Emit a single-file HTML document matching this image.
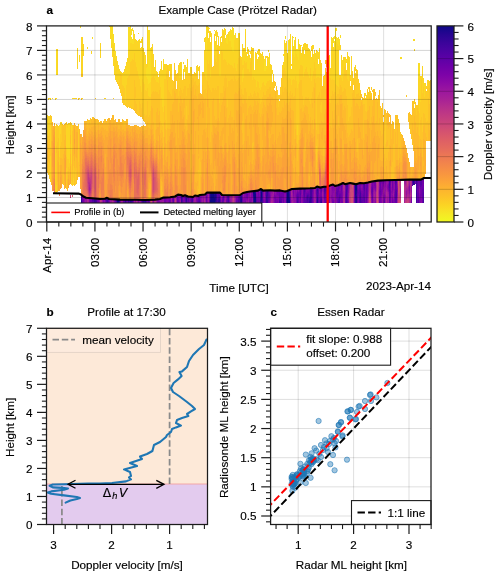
<!DOCTYPE html>
<html><head><meta charset="utf-8"><title>Melting layer figure</title><style>html,body{margin:0;padding:0;background:#fff}body{width:500px;height:577px;overflow:hidden}</style></head><body>
<svg width="500" height="577" viewBox="0 0 500 577" font-family="Liberation Sans, sans-serif" style="display:block">
<style>text{stroke:#000;stroke-width:0.15px;stroke-linejoin:round}</style>
<rect x="46.5" y="25.9" width="384.7" height="196.1" fill="#fff"/>
<g shape-rendering="crispEdges" fill="none" stroke-width="1">
<path stroke="#f9dd25" d="M56.5 49v26M72.5 98v1M80.5 26v2M92.5 37v2M109.5 26v1M110.5 26v9M111.5 26v17M112.5 26v22M113.5 34v11M114.5 43v11M115.5 51v8M128.5 27v25M129.5 27v22M130.5 26v17M131.5 29v6M131.5 37v6M132.5 28v3M132.5 39v5M133.5 30v14M137.5 41v1M146.5 68v9M147.5 67v12M148.5 30v54M149.5 30v53M150.5 48v34M163.5 59v7M206.5 26v26M207.5 26v1M211.5 33v1M214.5 30v1M223.5 30v3M225.5 29v1M226.5 35v8M227.5 34v10M229.5 31v10M230.5 29v12M231.5 30v17M232.5 27v24M233.5 28v24M234.5 35v5M235.5 33v4M238.5 33v1M245.5 29v3M264.5 59v12M265.5 62v9M266.5 66v3M268.5 59v7M269.5 59v3M285.5 36v3M288.5 40v16M292.5 36v18M293.5 37v1M293.5 46v9M294.5 40v17M296.5 49v5M297.5 49v8M298.5 39v21M299.5 44v4M318.5 52v1M319.5 48v2M327.5 39v7M331.5 37v10M332.5 38v7M333.5 37v6M334.5 36v3M334.5 41v7M335.5 28v22M336.5 28v3M336.5 37v5M337.5 38v6M338.5 37v9M339.5 39v3M340.5 35v3M400.5 57v2M401.5 57v2M413.5 39v2M414.5 39v1M418.5 63v15M419.5 63v13"/>
<path stroke="#fbd524" d="M47.5 115v14M48.5 98v2M48.5 116v20M49.5 98v1M49.5 116v17M50.5 98v2M50.5 119v28M50.5 156v26M52.5 98v1M55.5 98v2M55.5 126v67M56.5 98v1M56.5 185v8M57.5 49v26M59.5 125v32M60.5 122v12M61.5 122v3M66.5 124v24M67.5 128v31M68.5 123v36M69.5 123v40M71.5 123v41M71.5 181v4M73.5 98v1M73.5 178v7M74.5 98v1M75.5 98v1M77.5 48v21M79.5 55v7M81.5 37v36M82.5 37v36M83.5 44v12M87.5 47v2M91.5 51v3M100.5 43v15M104.5 98v1M105.5 98v1M110.5 35v4M111.5 43v5M112.5 48v9M113.5 45v21M114.5 54v21M115.5 59v21M116.5 56v25M117.5 61v21M118.5 65v18M119.5 69v11M120.5 71v3M121.5 72v3M122.5 73v12M123.5 72v14M124.5 69v19M125.5 66v37M126.5 62v23M127.5 58v20M128.5 52v24M129.5 49v26M130.5 43v19M131.5 43v18M132.5 44v15M133.5 44v16M134.5 34v19M135.5 39v23M136.5 40v27M137.5 42v29M138.5 33v1M138.5 40v36M139.5 39v40M140.5 41v2M140.5 48v38M141.5 39v4M141.5 47v45M142.5 37v42M143.5 48v34M144.5 52v32M145.5 55v35M146.5 64v4M146.5 77v14M147.5 26v41M147.5 79v9M148.5 84v12M149.5 83v14M150.5 82v15M151.5 47v31M152.5 44v33M153.5 54v22M154.5 67v11M155.5 60v20M156.5 71v11M157.5 72v10M158.5 74v1M158.5 77v6M159.5 71v2M160.5 69v18M161.5 61v37M162.5 70v37M163.5 66v46M164.5 64v15M165.5 64v15M166.5 64v7M168.5 65v4M169.5 64v7M170.5 64v8M171.5 64v14M178.5 65v7M179.5 63v15M180.5 62v16M181.5 62v16M183.5 62v2M183.5 69v6M184.5 65v7M185.5 65v9M186.5 67v10M187.5 59v16M190.5 67v8M191.5 67v3M196.5 66v8M197.5 65v11M198.5 67v4M202.5 72v2M204.5 38v4M204.5 50v24M205.5 37v40M206.5 52v28M207.5 27v33M208.5 27v6M208.5 38v26M209.5 28v1M209.5 31v29M210.5 31v6M210.5 42v35M211.5 34v31M214.5 34v21M215.5 31v5M215.5 41v18M216.5 30v32M217.5 32v5M217.5 45v3M218.5 36v10M219.5 46v5M219.5 54v22M220.5 37v39M221.5 36v2M221.5 42v8M222.5 29v23M223.5 33v27M224.5 28v31M225.5 30v5M225.5 38v22M226.5 43v19M227.5 44v21M228.5 32v31M229.5 41v23M230.5 41v24M231.5 47v18M232.5 51v15M233.5 52v16M234.5 40v23M235.5 37v31M236.5 38v33M237.5 38v26M238.5 34v24M239.5 33v19M240.5 56v1M241.5 57v3M242.5 44v21M242.5 70v12M243.5 48v17M243.5 68v10M244.5 48v13M245.5 32v31M246.5 52v10M247.5 47v7M247.5 56v13M248.5 49v20M249.5 51v1M249.5 55v17M250.5 51v3M250.5 58v4M251.5 47v4M252.5 48v32M253.5 48v29M254.5 70v9M255.5 52v28M256.5 53v34M257.5 51v3M257.5 59v22M258.5 49v6M258.5 57v25M259.5 49v39M260.5 53v37M261.5 54v33M262.5 52v31M263.5 56v26M264.5 71v14M265.5 56v6M265.5 71v15M266.5 56v2M266.5 69v14M267.5 56v25M268.5 50v2M268.5 57v2M268.5 66v15M269.5 53v6M269.5 62v18M270.5 64v16M271.5 65v17M272.5 70v4M273.5 74v2M282.5 65v5M283.5 54v2M283.5 62v8M284.5 40v28M285.5 43v28M286.5 41v35M287.5 53v25M288.5 56v24M289.5 39v39M290.5 34v45M291.5 64v2M291.5 69v16M292.5 54v26M293.5 55v24M294.5 57v23M295.5 37v39M296.5 54v27M297.5 57v31M297.5 125v10M298.5 60v24M299.5 48v21M300.5 45v20M301.5 45v1M301.5 53v12M302.5 47v19M303.5 44v33M304.5 43v7M304.5 54v18M305.5 43v26M306.5 44v23M307.5 44v28M308.5 48v27M309.5 49v29M310.5 51v17M311.5 46v5M311.5 57v24M312.5 45v31M313.5 45v4M313.5 54v17M314.5 50v12M315.5 53v15M316.5 50v28M317.5 51v26M318.5 53v6M318.5 64v13M319.5 50v28M320.5 60v18M321.5 63v12M326.5 60v7M327.5 46v36M328.5 56v23M329.5 55v22M330.5 68v10M331.5 47v33M332.5 45v34M333.5 47v33M334.5 48v32M335.5 50v34M336.5 42v43M337.5 44v42M338.5 46v41M339.5 42v8M339.5 75v3M340.5 45v5M340.5 75v1M341.5 55v23M342.5 60v21M343.5 57v19M344.5 57v10M345.5 57v8M346.5 59v4M347.5 52v27M348.5 56v25M349.5 57v18M350.5 75v5M351.5 56v28M352.5 71v1M354.5 67v2M355.5 65v6M355.5 73v4M364.5 93v2M365.5 93v3M366.5 95v2M414.5 40v1M414.5 49v2M418.5 78v17M419.5 76v37M420.5 76v26M421.5 76v3M422.5 66v27M423.5 78v9M424.5 83v14M425.5 83v7M427.5 80v7M428.5 80v1"/>
<path stroke="#fdcb26" d="M47.5 129v7M48.5 136v6M48.5 162v13M49.5 133v6M49.5 164v15M50.5 115v4M50.5 147v9M51.5 116v6M56.5 124v22M56.5 153v32M57.5 125v17M58.5 126v12M59.5 157v8M60.5 134v12M61.5 125v17M63.5 183v2M66.5 122v2M66.5 148v9M66.5 168v21M67.5 124v4M67.5 159v12M68.5 159v8M69.5 163v6M70.5 122v2M71.5 164v17M72.5 125v6M72.5 182v4M73.5 166v12M75.5 171v14M76.5 98v1M78.5 98v2M78.5 124v38M79.5 98v1M81.5 73v4M81.5 98v2M82.5 73v4M82.5 98v1M95.5 98v1M113.5 98v1M116.5 81v1M117.5 82v2M118.5 83v3M119.5 80v9M120.5 74v19M121.5 75v21M122.5 85v18M123.5 86v19M124.5 88v17M125.5 103v3M126.5 85v22M127.5 78v30M128.5 76v31M129.5 75v32M130.5 62v46M131.5 61v48M132.5 59v50M133.5 60v48M134.5 53v27M135.5 62v25M135.5 98v3M136.5 67v37M137.5 71v44M138.5 76v39M139.5 79v22M140.5 86v18M141.5 92v16M142.5 79v24M143.5 82v36M144.5 84v30M145.5 90v26M146.5 91v24M147.5 88v13M148.5 96v21M149.5 97v18M150.5 97v14M151.5 78v16M152.5 77v15M153.5 76v15M154.5 78v14M155.5 80v11M156.5 82v10M157.5 82v10M158.5 83v11M159.5 73v17M160.5 87v34M161.5 98v25M162.5 107v19M163.5 112v25M164.5 79v27M165.5 79v41M166.5 71v59M167.5 65v15M168.5 69v21M169.5 77v15M170.5 72v22M171.5 78v18M172.5 80v9M173.5 81v7M174.5 63v14M175.5 70v7M176.5 74v7M177.5 73v12M178.5 72v24M179.5 78v13M180.5 78v10M181.5 78v12M182.5 80v13M183.5 75v14M184.5 79v7M185.5 74v12M186.5 77v19M186.5 106v13M187.5 75v13M188.5 73v15M189.5 73v11M190.5 75v13M191.5 70v10M192.5 74v4M193.5 74v4M194.5 72v10M195.5 73v8M196.5 74v11M197.5 76v10M198.5 79v6M199.5 66v17M202.5 74v11M203.5 72v18M204.5 74v16M205.5 77v12M206.5 80v13M207.5 60v21M208.5 64v21M209.5 60v28M210.5 77v13M211.5 65v27M212.5 67v21M213.5 66v22M214.5 55v35M215.5 59v29M216.5 62v28M217.5 48v38M218.5 46v40M219.5 76v27M220.5 76v17M221.5 50v43M222.5 52v41M223.5 60v26M224.5 59v19M225.5 60v15M226.5 62v16M227.5 65v22M227.5 99v8M228.5 63v18M229.5 64v17M230.5 65v15M231.5 65v14M232.5 66v13M233.5 68v13M234.5 63v13M235.5 68v11M236.5 71v10M237.5 64v16M238.5 58v20M239.5 52v25M240.5 57v28M241.5 60v29M242.5 65v5M242.5 82v12M243.5 65v3M243.5 78v17M244.5 61v27M245.5 63v25M246.5 62v30M247.5 69v31M248.5 69v27M249.5 72v24M250.5 62v31M251.5 51v44M252.5 80v17M253.5 77v17M254.5 79v12M255.5 80v13M256.5 87v9M257.5 81v11M258.5 82v11M259.5 88v10M260.5 90v14M261.5 87v15M262.5 83v14M263.5 82v10M264.5 85v10M265.5 86v9M266.5 83v8M267.5 81v8M268.5 81v8M269.5 80v7M270.5 80v7M271.5 82v9M272.5 82v8M273.5 76v11M274.5 81v7M276.5 86v1M277.5 90v9M278.5 95v12M279.5 95v4M280.5 87v7M281.5 78v17M282.5 70v16M283.5 70v22M284.5 68v20M285.5 71v16M286.5 76v13M287.5 78v14M288.5 80v16M289.5 78v15M290.5 79v12M291.5 85v10M292.5 80v13M293.5 79v18M294.5 80v16M295.5 76v12M296.5 81v54M297.5 88v37M297.5 135v9M298.5 84v56M299.5 69v13M300.5 65v15M301.5 65v15M302.5 66v30M303.5 77v28M304.5 72v28M305.5 69v28M306.5 67v30M307.5 72v26M308.5 75v22M309.5 78v23M310.5 68v36M311.5 81v17M312.5 76v16M313.5 71v16M314.5 62v17M315.5 68v15M316.5 78v52M316.5 146v14M317.5 77v20M318.5 77v18M319.5 78v14M320.5 78v20M320.5 105v7M321.5 75v14M321.5 102v11M323.5 76v8M324.5 75v11M325.5 60v4M325.5 68v21M326.5 72v17M327.5 82v24M328.5 79v29M329.5 77v25M330.5 78v25M331.5 80v16M332.5 79v12M333.5 80v14M334.5 80v12M335.5 84v8M336.5 85v11M337.5 86v8M338.5 87v7M339.5 78v11M340.5 76v9M341.5 78v9M342.5 81v11M343.5 76v15M344.5 67v21M345.5 65v24M346.5 70v26M347.5 79v26M348.5 81v40M349.5 75v42M350.5 80v1M350.5 86v30M351.5 84v23M352.5 72v21M353.5 78v7M354.5 69v16M355.5 77v20M356.5 69v25M357.5 70v24M358.5 79v14M359.5 83v13M360.5 90v2M363.5 98v6M364.5 95v9M365.5 98v13M366.5 97v15M367.5 89v10M368.5 87v2M368.5 92v8M369.5 87v10M370.5 91v5M371.5 87v3M371.5 93v3M384.5 109v2M384.5 131v23M385.5 118v26M400.5 132v3M406.5 95v1M409.5 126v3M413.5 101v5M414.5 99v5M415.5 102v8M416.5 105v10M417.5 105v3M418.5 95v16M419.5 113v23M420.5 102v18M421.5 79v38M422.5 93v39M423.5 87v26M424.5 97v17M425.5 90v28M426.5 86v3M426.5 91v31M427.5 87v34M428.5 81v17M429.5 81v7M429.5 98v6M430.5 80v43"/>
<path stroke="#fdc328" d="M47.5 136v4M48.5 142v20M49.5 139v25M51.5 122v19M52.5 122v1M56.5 146v7M57.5 142v18M57.5 182v10M58.5 138v13M59.5 165v7M60.5 146v12M61.5 142v16M62.5 124v35M63.5 125v29M63.5 174v9M64.5 126v14M65.5 123v12M66.5 157v11M67.5 171v8M68.5 167v4M69.5 169v5M70.5 124v11M70.5 144v10M72.5 131v18M72.5 170v12M73.5 125v1M73.5 156v10M74.5 168v18M75.5 125v5M75.5 157v14M76.5 168v16M78.5 162v15M87.5 119v7M88.5 120v4M89.5 120v2M90.5 118v6M92.5 117v4M93.5 117v2M96.5 119v6M97.5 119v5M99.5 122v3M100.5 121v2M101.5 121v1M104.5 119v5M105.5 119v2M107.5 119v5M113.5 115v1M122.5 119v4M123.5 120v5M124.5 121v5M125.5 121v4M129.5 107v1M133.5 108v2M134.5 80v31M135.5 87v11M135.5 101v12M136.5 104v10M138.5 115v1M139.5 101v15M140.5 104v11M141.5 108v9M142.5 103v16M143.5 118v3M143.5 125v1M144.5 114v8M145.5 116v8M146.5 115v10M147.5 101v20M148.5 117v10M149.5 115v13M149.5 196v4M150.5 111v14M151.5 94v12M152.5 92v16M153.5 91v31M154.5 92v47M155.5 91v39M156.5 92v20M157.5 92v16M158.5 94v21M159.5 90v21M160.5 121v12M161.5 123v7M161.5 186v12M162.5 126v6M163.5 137v18M164.5 106v16M165.5 120v9M166.5 130v14M167.5 80v48M168.5 90v39M169.5 92v37M170.5 94v17M171.5 96v15M172.5 89v15M173.5 88v14M174.5 77v14M175.5 77v16M176.5 89v10M177.5 85v13M178.5 96v16M179.5 91v12M180.5 88v8M181.5 90v9M182.5 93v10M183.5 89v10M184.5 86v12M184.5 108v7M185.5 86v40M186.5 96v10M186.5 119v12M187.5 88v32M188.5 88v27M189.5 84v16M190.5 88v37M191.5 80v11M192.5 78v9M193.5 78v7M194.5 82v13M195.5 81v8M196.5 85v11M197.5 86v13M198.5 85v9M198.5 170v4M198.5 189v7M199.5 83v10M199.5 158v37M200.5 162v13M201.5 94v2M202.5 85v10M203.5 90v7M204.5 90v9M205.5 89v9M206.5 93v35M207.5 81v9M208.5 85v14M209.5 88v20M210.5 90v52M211.5 92v40M212.5 88v13M213.5 88v10M214.5 90v26M215.5 88v32M216.5 90v29M217.5 86v13M218.5 86v13M219.5 103v18M220.5 93v19M221.5 93v12M222.5 93v9M223.5 86v11M224.5 78v13M225.5 75v13M226.5 78v30M227.5 87v12M227.5 107v15M228.5 81v37M229.5 81v34M230.5 80v31M231.5 79v38M232.5 79v38M233.5 81v39M234.5 76v18M235.5 79v13M236.5 81v12M237.5 80v14M238.5 78v13M239.5 77v11M240.5 85v10M241.5 89v8M242.5 94v9M242.5 121v12M243.5 95v9M243.5 113v31M244.5 88v11M245.5 88v12M246.5 92v11M247.5 100v15M248.5 96v12M249.5 96v10M250.5 93v12M251.5 95v12M252.5 97v13M252.5 143v9M253.5 94v12M253.5 142v4M254.5 91v9M255.5 93v8M256.5 96v9M257.5 92v9M258.5 93v10M259.5 98v15M260.5 104v13M261.5 102v12M262.5 97v11M263.5 92v10M264.5 95v10M265.5 95v12M266.5 91v8M267.5 89v8M268.5 89v8M269.5 87v7M270.5 87v7M271.5 91v6M272.5 90v7M273.5 87v12M274.5 90v9M275.5 82v4M276.5 87v21M277.5 99v16M278.5 107v8M279.5 101v11M280.5 94v19M281.5 95v16M282.5 86v21M283.5 92v16M284.5 88v13M285.5 87v18M286.5 89v14M287.5 92v11M288.5 96v9M289.5 93v9M290.5 91v7M291.5 95v15M292.5 93v17M293.5 97v14M294.5 96v43M295.5 88v41M296.5 135v8M297.5 144v17M298.5 140v10M299.5 82v53M300.5 80v29M301.5 80v28M302.5 96v16M303.5 105v6M304.5 100v7M305.5 97v8M306.5 97v9M307.5 98v9M308.5 97v17M309.5 101v20M310.5 104v13M311.5 98v25M312.5 92v11M312.5 108v12M313.5 87v42M314.5 79v9M315.5 83v40M316.5 130v16M316.5 160v9M317.5 97v37M317.5 139v13M318.5 95v39M319.5 92v32M320.5 98v7M320.5 112v12M321.5 89v13M321.5 113v8M322.5 86v36M323.5 84v39M323.5 146v10M324.5 86v28M325.5 89v20M326.5 89v23M327.5 106v30M328.5 108v37M329.5 102v29M330.5 103v23M331.5 96v32M332.5 91v20M333.5 94v25M334.5 92v18M335.5 92v12M336.5 96v9M337.5 94v9M338.5 94v11M338.5 116v10M339.5 89v8M340.5 85v10M341.5 87v8M342.5 92v11M343.5 91v19M344.5 88v18M345.5 89v19M346.5 96v28M347.5 105v28M348.5 121v16M349.5 117v18M350.5 116v17M351.5 107v22M352.5 93v38M353.5 90v8M354.5 85v14M355.5 97v9M356.5 94v9M357.5 94v10M357.5 139v13M358.5 93v13M359.5 96v13M360.5 92v14M361.5 94v4M361.5 100v2M362.5 97v8M363.5 104v34M364.5 104v16M365.5 111v9M366.5 112v8M367.5 99v12M368.5 100v10M369.5 97v9M370.5 96v28M371.5 96v21M372.5 90v2M372.5 100v6M373.5 89v10M374.5 89v7M375.5 92v4M375.5 99v24M376.5 98v23M377.5 99v3M378.5 95v29M379.5 90v28M380.5 106v25M381.5 108v6M381.5 118v18M382.5 103v31M384.5 111v20M384.5 154v15M385.5 110v8M385.5 144v17M386.5 113v29M386.5 147v11M387.5 126v14M387.5 146v14M388.5 129v23M389.5 127v18M391.5 124v15M391.5 167v13M392.5 121v7M392.5 162v18M393.5 122v7M393.5 144v36M394.5 129v38M395.5 115v17M396.5 115v29M397.5 115v9M398.5 119v41M399.5 123v24M400.5 135v19M401.5 134v6M406.5 96v1M408.5 113v9M409.5 112v14M410.5 114v20M411.5 115v24M412.5 101v22M412.5 134v11M413.5 106v24M413.5 143v8M414.5 108v8M415.5 110v12M416.5 115v18M417.5 108v19M418.5 111v24M419.5 136v11M420.5 120v19M421.5 117v23M422.5 132v25M423.5 113v13M424.5 114v11M425.5 118v15M426.5 122v15M427.5 121v20M428.5 98v26M429.5 88v10M429.5 104v26M430.5 123v18"/>
<path stroke="#feba2c" d="M47.5 140v7M47.5 159v14M51.5 141v44M52.5 123v7M57.5 160v22M58.5 151v11M59.5 172v13M60.5 158v7M61.5 158v7M62.5 159v25M63.5 154v20M64.5 124v2M64.5 140v11M64.5 181v8M65.5 135v11M67.5 179v12M68.5 171v4M69.5 174v6M70.5 135v9M70.5 154v12M72.5 149v21M73.5 126v30M74.5 161v7M75.5 130v27M76.5 126v6M76.5 158v10M77.5 126v6M77.5 150v30M79.5 129v36M79.5 166v11M81.5 134v3M84.5 121v3M85.5 121v2M86.5 121v7M87.5 126v8M88.5 124v7M89.5 122v6M90.5 124v5M91.5 119v8M92.5 121v6M93.5 119v7M94.5 118v7M95.5 119v7M96.5 125v7M97.5 124v6M98.5 120v5M99.5 125v5M100.5 123v6M101.5 122v5M102.5 123v4M103.5 121v7M104.5 124v6M105.5 121v8M106.5 121v10M107.5 124v7M108.5 118v8M109.5 118v1M111.5 118v6M112.5 115v9M113.5 116v6M114.5 120v4M115.5 119v7M117.5 122v3M118.5 119v10M119.5 119v10M120.5 122v3M121.5 122v4M122.5 123v7M123.5 125v4M124.5 126v5M125.5 125v6M126.5 119v5M127.5 119v6M129.5 125v3M130.5 126v1M131.5 126v3M135.5 125v1M136.5 125v3M137.5 126v3M138.5 126v4M140.5 115v2M141.5 126v2M142.5 126v1M143.5 126v5M144.5 126v4M145.5 126v4M146.5 125v5M147.5 121v7M148.5 127v8M149.5 128v7M149.5 189v7M150.5 125v4M150.5 196v4M151.5 106v19M152.5 108v21M153.5 122v12M154.5 139v7M155.5 130v13M156.5 112v17M157.5 108v19M158.5 115v12M158.5 136v5M159.5 111v11M160.5 133v7M161.5 130v8M161.5 181v5M162.5 132v11M162.5 192v6M163.5 155v10M164.5 122v15M165.5 129v14M166.5 144v13M167.5 128v13M168.5 129v11M169.5 129v7M170.5 111v18M171.5 111v13M172.5 104v11M173.5 102v21M174.5 91v30M175.5 93v40M176.5 99v46M177.5 98v22M178.5 112v26M179.5 103v19M180.5 96v10M181.5 99v12M182.5 103v16M183.5 99v18M184.5 98v10M184.5 115v14M185.5 126v9M186.5 131v8M187.5 120v10M188.5 115v9M189.5 100v24M190.5 125v16M190.5 150v20M191.5 91v39M191.5 134v34M192.5 87v13M193.5 85v13M194.5 95v14M194.5 122v22M195.5 89v42M195.5 172v10M196.5 96v87M197.5 99v18M197.5 119v62M197.5 186v10M198.5 94v11M198.5 131v4M198.5 154v2M198.5 159v11M198.5 174v15M199.5 93v11M199.5 116v42M200.5 93v9M200.5 114v48M200.5 175v15M201.5 96v12M201.5 110v50M202.5 95v6M202.5 118v17M203.5 97v6M203.5 118v12M204.5 99v30M205.5 98v34M206.5 128v10M206.5 147v4M207.5 90v9M207.5 107v17M208.5 99v39M209.5 108v43M210.5 142v23M211.5 132v31M212.5 101v34M213.5 98v27M214.5 116v10M214.5 174v16M215.5 120v8M216.5 119v8M217.5 99v22M218.5 99v19M219.5 121v19M220.5 112v24M221.5 105v26M222.5 102v26M222.5 140v7M223.5 97v30M223.5 134v18M224.5 91v15M225.5 88v29M226.5 108v35M227.5 122v31M228.5 118v18M229.5 115v9M230.5 111v13M231.5 117v16M232.5 117v11M233.5 120v11M234.5 94v26M235.5 92v58M236.5 93v17M236.5 127v15M237.5 94v17M237.5 133v3M238.5 91v19M239.5 88v11M240.5 95v11M241.5 97v10M241.5 125v5M242.5 103v18M242.5 133v12M243.5 104v9M243.5 144v6M244.5 99v42M245.5 100v19M246.5 103v13M247.5 115v21M248.5 108v28M249.5 106v16M249.5 129v16M249.5 160v5M250.5 105v9M251.5 107v7M252.5 110v33M252.5 152v12M253.5 106v8M253.5 127v15M253.5 146v14M254.5 100v12M255.5 101v9M256.5 105v9M257.5 101v9M258.5 103v24M259.5 113v21M260.5 117v33M261.5 114v47M262.5 108v8M262.5 140v7M263.5 102v12M264.5 105v22M265.5 107v29M266.5 99v12M267.5 97v8M268.5 97v9M269.5 94v9M269.5 131v16M269.5 187v3M270.5 94v6M270.5 134v4M271.5 97v8M271.5 127v8M271.5 187v3M272.5 97v15M272.5 122v12M273.5 99v35M274.5 99v43M275.5 91v9M276.5 108v36M277.5 115v23M278.5 115v21M279.5 112v20M280.5 113v22M281.5 111v13M282.5 107v10M283.5 108v11M284.5 101v18M285.5 105v13M286.5 103v12M287.5 103v8M288.5 105v6M289.5 102v10M290.5 98v10M291.5 110v10M292.5 110v35M293.5 111v39M293.5 160v8M293.5 182v7M294.5 139v9M294.5 156v16M295.5 129v10M296.5 143v29M297.5 161v13M298.5 150v26M299.5 135v5M300.5 109v24M301.5 108v13M302.5 112v8M303.5 111v7M304.5 107v6M304.5 147v20M305.5 105v10M305.5 133v18M306.5 106v14M307.5 107v16M308.5 114v20M309.5 121v10M309.5 176v5M310.5 117v7M311.5 123v10M312.5 103v5M312.5 120v14M313.5 129v8M314.5 88v13M314.5 103v16M315.5 123v31M316.5 169v6M317.5 134v5M317.5 152v10M318.5 134v13M319.5 124v10M320.5 124v27M321.5 121v11M321.5 139v16M322.5 122v6M322.5 140v16M323.5 123v23M323.5 156v6M324.5 114v21M324.5 143v13M325.5 109v26M326.5 112v19M327.5 136v9M328.5 145v13M329.5 131v19M330.5 126v15M331.5 128v13M332.5 111v36M333.5 119v9M334.5 110v15M335.5 104v21M336.5 105v10M336.5 125v4M337.5 103v31M338.5 105v11M338.5 126v28M339.5 97v31M340.5 95v9M341.5 95v9M342.5 103v15M342.5 131v21M343.5 110v14M343.5 140v15M344.5 106v20M345.5 108v22M346.5 124v14M347.5 133v10M348.5 137v10M349.5 135v6M350.5 133v8M351.5 129v15M352.5 131v9M353.5 98v40M354.5 99v24M355.5 106v36M356.5 103v49M357.5 104v35M357.5 152v6M358.5 106v12M358.5 138v22M359.5 109v18M359.5 138v5M360.5 106v26M361.5 102v37M362.5 105v35M363.5 138v17M364.5 120v20M365.5 120v14M366.5 120v14M367.5 111v8M368.5 110v11M369.5 106v22M370.5 124v20M371.5 117v13M372.5 106v16M373.5 99v17M374.5 96v28M375.5 123v9M376.5 121v15M377.5 102v29M378.5 124v12M378.5 177v4M379.5 118v20M379.5 179v2M380.5 131v29M381.5 114v4M381.5 136v25M382.5 134v27M383.5 115v2M383.5 122v24M384.5 169v10M385.5 161v11M386.5 142v5M386.5 158v8M387.5 111v15M387.5 140v6M387.5 160v13M388.5 113v16M388.5 152v26M389.5 114v3M389.5 122v5M389.5 145v16M390.5 115v31M391.5 139v28M392.5 128v34M393.5 129v15M394.5 167v13M395.5 132v35M396.5 144v16M397.5 124v36M398.5 160v5M399.5 147v11M400.5 154v8M401.5 140v22M402.5 135v11M403.5 138v1M404.5 141v2M406.5 148v1M407.5 153v4M408.5 158v1M411.5 167v8M412.5 123v11M412.5 167v3M413.5 130v13M414.5 116v29M415.5 122v29M416.5 133v25M417.5 127v19M418.5 135v12M418.5 177v3M419.5 147v9M419.5 175v5M420.5 139v8M421.5 140v9M422.5 157v22M423.5 126v13M423.5 161v5M424.5 125v15M425.5 133v17M426.5 137v4M428.5 124v17M429.5 130v11"/>
<path stroke="#fdb22f" d="M47.5 147v12M52.5 130v11M53.5 126v4M54.5 123v4M58.5 162v10M59.5 185v6M60.5 165v6M61.5 165v10M64.5 151v7M64.5 175v6M65.5 146v9M68.5 175v4M69.5 180v5M70.5 166v6M74.5 123v6M74.5 154v7M76.5 132v26M77.5 132v18M79.5 165v1M81.5 137v8M84.5 124v3M85.5 123v6M86.5 128v8M87.5 134v5M88.5 131v5M89.5 128v5M90.5 129v5M91.5 127v4M92.5 127v5M93.5 126v9M94.5 125v7M95.5 126v4M96.5 132v6M97.5 130v7M98.5 125v5M99.5 130v4M100.5 129v4M101.5 127v4M102.5 127v8M103.5 128v10M104.5 130v10M105.5 129v6M105.5 154v13M106.5 131v6M107.5 131v6M108.5 126v7M109.5 119v9M110.5 120v5M111.5 124v7M112.5 124v7M113.5 122v5M114.5 124v4M115.5 126v5M116.5 122v5M117.5 125v7M118.5 129v8M119.5 129v6M120.5 125v6M121.5 126v6M122.5 130v5M123.5 129v4M124.5 131v5M125.5 131v8M126.5 124v4M127.5 125v3M128.5 125v6M129.5 128v6M130.5 127v5M131.5 129v7M132.5 126v2M133.5 126v6M134.5 125v2M135.5 126v4M136.5 128v5M137.5 129v5M138.5 130v8M139.5 127v7M140.5 127v4M141.5 128v5M142.5 127v4M143.5 131v5M144.5 130v4M145.5 130v8M146.5 130v8M147.5 128v10M148.5 135v10M148.5 195v5M149.5 135v9M149.5 183v6M150.5 129v10M150.5 184v12M151.5 125v5M152.5 129v6M153.5 134v7M154.5 146v4M155.5 143v5M156.5 129v11M157.5 127v14M158.5 127v9M158.5 141v18M159.5 122v13M160.5 140v11M160.5 179v16M161.5 138v8M161.5 177v4M162.5 143v7M162.5 182v10M163.5 165v8M164.5 137v10M165.5 143v17M166.5 157v5M167.5 141v15M168.5 140v29M169.5 136v6M169.5 151v15M170.5 129v5M171.5 124v8M172.5 115v17M173.5 123v15M173.5 148v23M174.5 121v16M175.5 133v13M176.5 145v7M177.5 120v28M178.5 138v31M179.5 122v23M180.5 106v39M181.5 111v29M182.5 119v12M183.5 117v15M184.5 129v8M185.5 135v10M186.5 139v15M187.5 130v13M188.5 124v9M189.5 124v10M190.5 141v9M190.5 170v21M191.5 130v4M191.5 168v6M192.5 100v54M193.5 98v13M194.5 109v13M194.5 144v10M194.5 175v14M195.5 131v41M195.5 182v9M196.5 183v13M197.5 117v2M197.5 181v5M198.5 105v26M198.5 135v19M198.5 156v3M199.5 104v12M200.5 102v12M200.5 190v5M201.5 108v2M201.5 160v17M202.5 101v17M202.5 135v24M203.5 103v15M203.5 130v21M204.5 129v32M204.5 162v30M205.5 132v20M206.5 138v9M206.5 151v8M207.5 99v8M207.5 124v13M208.5 138v12M209.5 151v8M210.5 165v9M211.5 163v13M212.5 135v36M212.5 175v3M213.5 125v13M213.5 169v14M214.5 126v7M214.5 161v13M214.5 190v3M215.5 128v6M215.5 166v20M216.5 127v8M216.5 174v5M217.5 121v10M218.5 118v14M219.5 140v13M220.5 136v10M221.5 131v15M222.5 128v12M222.5 147v7M223.5 127v7M223.5 152v6M224.5 106v39M225.5 117v26M226.5 143v9M227.5 153v10M228.5 136v15M229.5 124v21M230.5 124v40M231.5 133v57M231.5 191v4M232.5 128v13M233.5 131v16M234.5 120v24M235.5 150v7M236.5 110v17M236.5 142v18M237.5 111v22M237.5 136v32M238.5 110v44M239.5 99v15M240.5 106v45M241.5 107v18M241.5 130v18M242.5 145v8M243.5 150v28M244.5 141v8M244.5 175v5M245.5 119v31M245.5 164v17M246.5 116v25M247.5 136v50M248.5 136v13M248.5 156v20M249.5 122v7M249.5 145v15M249.5 165v8M250.5 114v48M251.5 114v50M252.5 164v7M253.5 114v13M253.5 160v9M254.5 112v53M255.5 110v14M256.5 114v19M257.5 110v25M258.5 127v17M259.5 134v13M260.5 150v13M261.5 161v10M262.5 116v24M262.5 147v9M263.5 114v34M264.5 127v28M265.5 136v11M266.5 111v10M267.5 105v8M267.5 185v5M268.5 106v12M268.5 130v8M268.5 184v6M269.5 103v28M269.5 147v8M269.5 184v3M270.5 100v34M270.5 138v12M270.5 189v1M271.5 105v22M271.5 135v15M271.5 178v9M272.5 112v10M272.5 134v10M273.5 134v11M274.5 142v6M275.5 100v40M276.5 144v19M277.5 138v20M278.5 136v18M279.5 132v25M280.5 135v22M281.5 124v20M281.5 152v6M282.5 117v10M283.5 119v8M284.5 119v14M285.5 118v23M286.5 115v19M287.5 111v8M287.5 145v5M288.5 111v46M289.5 112v31M290.5 108v10M291.5 120v32M292.5 145v19M292.5 186v3M293.5 150v10M293.5 168v14M294.5 148v8M294.5 172v16M295.5 139v7M295.5 158v9M296.5 172v11M297.5 174v10M298.5 176v7M299.5 140v7M300.5 133v6M301.5 121v9M302.5 120v8M303.5 118v19M303.5 149v18M304.5 113v34M304.5 167v6M305.5 115v18M305.5 151v11M306.5 120v22M307.5 123v16M308.5 134v12M308.5 173v11M309.5 131v11M309.5 162v14M309.5 181v7M310.5 124v11M311.5 133v5M311.5 171v5M312.5 134v4M313.5 137v5M314.5 101v2M314.5 119v17M315.5 154v19M316.5 175v11M317.5 162v10M318.5 147v4M318.5 175v9M319.5 134v17M320.5 151v8M321.5 132v7M321.5 155v10M322.5 128v12M322.5 156v7M323.5 162v6M324.5 135v8M324.5 156v7M325.5 135v6M326.5 131v7M327.5 145v8M328.5 158v28M329.5 150v31M330.5 141v9M331.5 141v8M332.5 147v6M333.5 128v20M334.5 125v14M335.5 125v13M336.5 115v10M336.5 129v10M337.5 134v12M338.5 154v15M338.5 174v11M339.5 128v33M340.5 104v34M341.5 104v35M342.5 118v13M342.5 152v12M343.5 124v16M343.5 155v11M344.5 126v18M345.5 130v14M346.5 138v6M347.5 143v16M348.5 147v23M349.5 141v7M350.5 141v5M351.5 144v18M352.5 140v20M353.5 138v20M354.5 123v15M355.5 142v15M356.5 152v6M357.5 158v8M358.5 118v20M358.5 160v9M359.5 127v11M359.5 143v21M360.5 132v33M361.5 139v34M362.5 140v10M362.5 159v11M363.5 155v16M364.5 140v27M365.5 134v31M366.5 134v8M367.5 119v17M368.5 121v31M369.5 128v21M370.5 144v8M371.5 130v21M371.5 161v11M372.5 122v20M373.5 116v22M374.5 124v12M374.5 163v12M375.5 132v11M375.5 161v20M376.5 136v45M377.5 131v17M377.5 176v5M378.5 136v8M378.5 158v19M379.5 138v41M380.5 160v7M381.5 161v5M382.5 161v6M383.5 146v12M384.5 179v1M385.5 172v8M386.5 166v12M387.5 173v6M388.5 178v2M389.5 161v19M390.5 146v14M390.5 166v14M395.5 167v13M396.5 160v6M397.5 160v6M398.5 165v4M399.5 158v5M400.5 162v8M401.5 162v9M402.5 146v10M403.5 139v8M404.5 143v6M405.5 145v5M406.5 149v4M407.5 157v6M408.5 159v21M409.5 162v5M410.5 167v13M411.5 175v5M412.5 170v6M413.5 167v6M414.5 145v18M415.5 151v10M416.5 158v5M417.5 146v14M418.5 147v9M418.5 170v7M419.5 156v19M420.5 147v6M421.5 149v8M423.5 139v22M423.5 166v12M424.5 140v38M425.5 150v10M425.5 166v8"/>
<path stroke="#fca934" d="M52.5 141v12M52.5 167v9M53.5 130v5M54.5 127v5M58.5 172v19M60.5 171v6M61.5 175v13M64.5 158v17M65.5 155v5M65.5 172v16M68.5 179v4M70.5 172v12M74.5 129v10M74.5 144v10M80.5 134v9M81.5 145v19M82.5 137v5M83.5 130v6M84.5 127v5M85.5 129v6M86.5 136v7M87.5 139v6M88.5 136v5M89.5 133v4M90.5 134v5M91.5 131v5M92.5 132v5M93.5 135v5M94.5 132v5M95.5 130v5M96.5 138v7M97.5 137v9M98.5 130v4M99.5 134v3M100.5 133v4M101.5 131v5M102.5 135v5M103.5 138v5M104.5 140v23M105.5 135v19M105.5 167v13M106.5 137v20M107.5 137v8M108.5 133v7M109.5 128v8M110.5 125v6M111.5 131v7M112.5 131v16M113.5 127v5M114.5 128v4M115.5 131v5M116.5 127v7M117.5 132v6M118.5 137v6M119.5 135v4M119.5 191v9M120.5 131v5M121.5 132v5M122.5 135v6M123.5 133v4M124.5 136v10M125.5 139v8M126.5 128v4M127.5 128v3M127.5 191v9M128.5 131v5M129.5 134v4M130.5 132v5M131.5 136v6M132.5 128v10M133.5 132v7M134.5 127v5M135.5 130v5M136.5 133v5M137.5 134v7M138.5 138v8M139.5 134v9M140.5 131v8M141.5 133v7M142.5 131v4M143.5 136v5M144.5 134v5M145.5 138v5M146.5 138v5M147.5 138v5M148.5 145v6M148.5 182v13M149.5 144v6M149.5 180v3M150.5 139v4M150.5 179v5M151.5 130v6M152.5 135v8M153.5 141v5M154.5 150v4M155.5 148v4M156.5 140v5M157.5 141v8M158.5 159v5M159.5 135v10M160.5 151v8M160.5 172v7M160.5 195v4M161.5 146v4M161.5 173v4M162.5 150v8M162.5 176v6M163.5 173v25M164.5 147v18M165.5 160v6M166.5 162v5M167.5 156v6M168.5 169v4M169.5 142v9M169.5 166v9M170.5 134v6M171.5 132v8M172.5 132v40M173.5 138v10M173.5 171v14M174.5 137v27M175.5 146v7M176.5 152v8M177.5 148v11M178.5 169v16M179.5 145v21M180.5 145v9M181.5 140v10M182.5 131v13M183.5 132v7M184.5 137v8M185.5 145v8M186.5 154v11M187.5 143v16M187.5 181v15M188.5 133v17M189.5 134v18M190.5 191v6M191.5 174v9M192.5 154v18M193.5 111v44M194.5 154v21M194.5 189v7M195.5 191v5M201.5 177v18M202.5 159v15M203.5 151v28M204.5 161v1M204.5 192v3M205.5 152v22M206.5 159v9M207.5 137v10M208.5 150v26M209.5 159v21M210.5 174v15M211.5 176v10M212.5 171v4M212.5 178v15M213.5 138v31M213.5 183v10M214.5 133v28M215.5 134v10M215.5 159v7M215.5 186v7M216.5 135v39M216.5 179v11M217.5 131v27M217.5 166v27M218.5 132v20M219.5 153v13M219.5 192v1M220.5 146v15M220.5 188v5M221.5 146v7M221.5 184v10M222.5 154v6M223.5 158v4M224.5 145v10M225.5 143v6M226.5 152v8M226.5 177v18M227.5 163v32M228.5 151v17M229.5 145v19M230.5 164v31M231.5 190v1M232.5 141v16M232.5 175v10M233.5 147v7M234.5 144v8M235.5 157v7M236.5 160v15M237.5 168v18M238.5 154v14M238.5 182v7M239.5 114v45M240.5 151v23M241.5 148v14M242.5 153v14M243.5 178v9M244.5 149v26M244.5 180v8M245.5 150v14M245.5 181v7M246.5 141v42M247.5 186v5M248.5 149v7M248.5 176v8M249.5 173v5M250.5 162v9M251.5 164v6M252.5 171v4M253.5 169v7M254.5 165v8M255.5 124v35M256.5 133v13M257.5 135v9M258.5 144v5M259.5 147v10M259.5 186v4M260.5 163v11M260.5 177v12M261.5 171v18M262.5 156v10M262.5 181v9M263.5 148v10M263.5 188v3M264.5 155v20M265.5 147v17M266.5 121v41M266.5 175v15M267.5 113v9M267.5 178v7M268.5 118v12M268.5 138v14M268.5 159v6M268.5 180v4M269.5 155v6M269.5 182v2M270.5 150v6M270.5 185v4M271.5 150v7M271.5 172v6M272.5 144v7M272.5 178v12M273.5 145v5M274.5 148v7M275.5 140v11M276.5 163v7M277.5 158v7M278.5 154v11M279.5 157v15M280.5 157v12M281.5 144v8M281.5 158v9M282.5 127v30M283.5 127v28M284.5 133v16M284.5 178v10M285.5 141v8M285.5 179v12M286.5 134v19M287.5 119v26M287.5 150v9M288.5 157v33M289.5 143v23M290.5 118v24M291.5 152v9M292.5 164v22M294.5 188v1M295.5 146v12M295.5 167v22M296.5 183v6M297.5 184v5M298.5 183v6M299.5 147v28M300.5 139v7M301.5 130v8M302.5 128v6M303.5 137v12M303.5 167v10M304.5 173v15M305.5 162v25M306.5 142v16M307.5 139v15M308.5 146v27M308.5 184v4M309.5 142v20M310.5 135v5M310.5 162v18M311.5 138v4M311.5 166v5M311.5 176v7M312.5 138v4M313.5 142v5M314.5 136v16M314.5 161v6M315.5 173v11M316.5 186v1M317.5 172v15M318.5 151v3M318.5 172v3M318.5 184v3M319.5 151v4M320.5 159v3M321.5 165v6M322.5 163v5M323.5 168v2M324.5 163v3M325.5 141v8M326.5 138v6M327.5 153v6M329.5 181v4M330.5 150v9M330.5 168v5M331.5 149v4M332.5 153v6M333.5 148v5M334.5 139v8M335.5 138v10M335.5 155v26M336.5 139v7M336.5 154v4M337.5 146v15M338.5 169v5M339.5 161v16M340.5 138v27M341.5 139v25M342.5 164v7M343.5 166v5M344.5 144v20M345.5 144v7M346.5 144v5M347.5 159v12M348.5 170v7M349.5 148v27M350.5 146v7M351.5 162v7M352.5 160v9M353.5 158v10M354.5 138v13M355.5 157v6M356.5 158v4M357.5 166v10M358.5 169v6M359.5 164v6M360.5 165v8M361.5 173v6M362.5 150v9M362.5 170v7M363.5 171v4M364.5 167v4M365.5 165v9M366.5 142v26M367.5 136v10M368.5 152v9M369.5 149v6M370.5 152v20M371.5 151v10M371.5 172v10M372.5 142v28M373.5 138v43M374.5 136v27M374.5 175v6M375.5 143v18M377.5 148v28M378.5 144v14M380.5 167v13M381.5 166v5M382.5 167v9M383.5 158v9M386.5 178v2M387.5 179v1M390.5 160v6M396.5 166v14M397.5 166v5M398.5 169v4M399.5 163v4M400.5 170v10M401.5 171v6M402.5 156v9M403.5 147v5M404.5 149v5M405.5 150v5M406.5 153v5M407.5 163v17M409.5 167v13M412.5 176v4M413.5 173v7M414.5 163v6M415.5 161v5M416.5 163v5M417.5 160v20M418.5 156v14M420.5 153v9M420.5 166v14M421.5 157v22M425.5 160v6"/>
<path stroke="#fba238" d="M52.5 153v14M52.5 176v8M53.5 135v8M54.5 132v5M60.5 177v12M65.5 160v12M68.5 183v5M74.5 139v5M80.5 143v46M81.5 164v9M82.5 142v10M83.5 136v10M84.5 132v4M85.5 135v4M86.5 143v4M87.5 145v4M88.5 141v5M89.5 137v4M90.5 139v5M91.5 136v3M92.5 137v4M93.5 140v4M94.5 137v4M95.5 135v4M96.5 145v5M97.5 146v5M98.5 134v5M99.5 137v5M99.5 196v3M100.5 137v5M101.5 136v6M102.5 140v6M103.5 143v8M104.5 163v11M105.5 180v18M106.5 157v33M107.5 145v12M108.5 140v7M109.5 136v12M110.5 131v8M111.5 138v11M112.5 147v9M113.5 132v6M114.5 132v5M115.5 136v7M116.5 134v11M117.5 138v12M118.5 143v5M119.5 139v5M119.5 185v6M120.5 136v4M120.5 192v8M121.5 137v5M121.5 198v2M122.5 141v10M122.5 195v5M123.5 137v11M124.5 146v8M125.5 147v5M126.5 132v4M127.5 131v4M127.5 187v4M128.5 136v3M128.5 194v6M129.5 138v3M130.5 137v4M131.5 142v4M132.5 138v8M133.5 139v5M134.5 132v5M135.5 135v6M136.5 138v4M137.5 141v8M138.5 146v5M139.5 143v6M140.5 139v6M141.5 140v6M142.5 135v4M143.5 141v7M144.5 139v6M145.5 143v4M146.5 143v6M147.5 143v5M148.5 151v8M148.5 178v4M149.5 150v5M149.5 177v3M150.5 143v3M150.5 176v3M151.5 136v5M152.5 143v4M153.5 146v3M154.5 154v3M155.5 152v3M156.5 145v5M157.5 149v8M158.5 164v4M159.5 145v17M160.5 159v13M161.5 150v5M161.5 169v4M162.5 158v18M164.5 165v6M165.5 166v5M166.5 167v6M167.5 162v7M168.5 173v4M169.5 175v7M170.5 140v28M171.5 140v24M172.5 172v9M173.5 185v10M174.5 164v10M175.5 153v6M176.5 160v9M177.5 159v15M178.5 185v10M179.5 166v23M180.5 154v18M180.5 175v10M181.5 150v9M182.5 144v11M183.5 139v12M184.5 145v8M185.5 153v8M186.5 165v6M187.5 159v22M188.5 150v47M189.5 152v45M191.5 183v7M192.5 172v10M193.5 155v11M202.5 174v9M202.5 193v2M203.5 179v16M205.5 174v20M206.5 168v25M207.5 147v8M208.5 176v17M209.5 180v13M210.5 189v4M211.5 186v7M215.5 144v15M216.5 190v3M217.5 158v8M218.5 152v41M219.5 166v26M220.5 161v27M221.5 153v31M222.5 160v8M222.5 191v4M223.5 162v5M224.5 155v4M225.5 149v8M226.5 160v17M228.5 168v15M229.5 164v30M232.5 157v18M232.5 185v10M233.5 154v5M234.5 152v5M235.5 164v7M236.5 175v11M237.5 186v8M238.5 168v14M238.5 189v6M239.5 159v14M240.5 174v9M241.5 162v13M242.5 167v14M243.5 187v6M244.5 188v5M245.5 188v4M246.5 183v6M247.5 191v1M248.5 184v5M249.5 178v6M250.5 171v4M251.5 170v4M252.5 175v5M253.5 176v6M254.5 173v18M255.5 159v7M256.5 146v15M256.5 170v7M257.5 144v6M258.5 149v8M259.5 157v29M260.5 174v3M262.5 166v15M263.5 158v30M264.5 175v16M265.5 164v26M266.5 162v13M267.5 122v56M268.5 152v7M268.5 165v6M268.5 175v5M269.5 161v8M269.5 178v4M270.5 156v6M270.5 181v4M271.5 157v15M272.5 151v6M272.5 173v5M273.5 150v6M273.5 189v2M274.5 155v11M274.5 186v5M275.5 151v12M276.5 170v16M276.5 188v3M277.5 165v11M277.5 188v3M278.5 165v13M278.5 187v3M279.5 172v8M280.5 169v7M281.5 167v5M282.5 157v11M283.5 155v12M283.5 173v15M284.5 149v29M284.5 188v3M285.5 149v30M286.5 153v13M286.5 187v4M287.5 159v8M289.5 166v24M290.5 142v12M291.5 161v28M299.5 175v11M300.5 146v8M300.5 173v12M301.5 138v12M302.5 134v18M303.5 177v11M305.5 187v1M306.5 158v24M307.5 154v34M310.5 140v5M310.5 159v3M310.5 180v8M311.5 142v5M311.5 161v5M311.5 183v5M312.5 142v4M312.5 173v12M313.5 147v5M313.5 161v24M314.5 152v9M314.5 167v6M315.5 184v3M318.5 154v4M318.5 168v4M319.5 155v2M320.5 162v2M321.5 171v2M322.5 168v4M323.5 170v2M324.5 166v3M325.5 149v5M326.5 144v5M327.5 159v27M329.5 185v1M330.5 159v9M330.5 173v9M331.5 153v6M332.5 159v9M333.5 153v5M334.5 147v33M335.5 148v7M335.5 181v5M336.5 146v8M336.5 158v23M337.5 161v20M339.5 177v8M340.5 165v8M341.5 164v6M342.5 171v4M343.5 171v4M344.5 164v7M345.5 151v17M346.5 149v22M347.5 171v8M348.5 177v5M349.5 175v8M350.5 153v30M351.5 169v14M352.5 169v15M353.5 168v6M353.5 179v5M354.5 151v11M355.5 163v8M356.5 162v11M357.5 176v8M358.5 175v5M359.5 170v5M360.5 173v4M361.5 179v4M362.5 177v6M363.5 175v7M364.5 171v4M365.5 174v9M366.5 168v15M367.5 146v17M368.5 161v6M369.5 155v8M370.5 172v10M372.5 170v11M381.5 171v9M382.5 176v4M383.5 167v13M397.5 171v6M398.5 173v4M399.5 167v4M401.5 177v3M402.5 165v9M403.5 152v5M404.5 154v3M405.5 155v3M406.5 158v4M414.5 169v11M415.5 166v4M416.5 168v12M420.5 162v4"/>
<path stroke="#fa9b3d" d="M52.5 184v7M53.5 143v35M54.5 137v9M81.5 173v22M82.5 152v7M83.5 146v10M84.5 136v6M85.5 139v4M86.5 147v3M87.5 149v3M88.5 146v4M89.5 141v6M90.5 144v4M91.5 139v5M92.5 141v5M93.5 144v6M94.5 141v4M95.5 139v5M96.5 150v4M97.5 151v5M98.5 139v6M99.5 142v6M99.5 192v4M100.5 142v7M100.5 194v5M101.5 142v4M102.5 146v9M103.5 151v7M104.5 174v16M105.5 198v1M106.5 190v8M107.5 157v27M108.5 147v13M109.5 148v22M110.5 139v9M110.5 163v6M111.5 149v9M112.5 156v8M113.5 138v8M114.5 137v7M115.5 143v8M115.5 158v13M115.5 186v7M116.5 145v8M117.5 150v9M118.5 148v17M118.5 186v14M119.5 144v4M119.5 181v4M120.5 140v5M120.5 186v6M121.5 142v7M121.5 193v5M122.5 151v4M122.5 187v8M123.5 148v7M123.5 183v17M124.5 154v5M124.5 164v36M125.5 152v5M125.5 160v19M126.5 136v5M127.5 135v3M127.5 182v5M128.5 139v4M128.5 189v5M129.5 141v3M130.5 141v4M131.5 146v3M132.5 146v5M133.5 144v6M134.5 137v5M135.5 141v7M136.5 142v6M137.5 149v7M138.5 151v4M139.5 149v4M140.5 145v6M141.5 146v7M142.5 139v5M143.5 148v10M144.5 145v7M145.5 147v4M146.5 149v7M147.5 148v10M147.5 168v6M147.5 189v11M148.5 159v19M149.5 155v5M149.5 174v3M150.5 146v3M150.5 174v2M151.5 141v3M152.5 147v4M153.5 149v4M154.5 157v2M155.5 155v3M156.5 150v4M157.5 157v6M158.5 168v3M159.5 162v8M161.5 155v14M164.5 171v8M165.5 171v5M166.5 173v6M167.5 169v5M168.5 177v7M169.5 182v7M170.5 168v8M171.5 164v9M172.5 181v6M173.5 195v2M174.5 174v16M175.5 159v7M176.5 169v7M177.5 174v12M179.5 189v6M180.5 172v3M180.5 185v10M181.5 159v8M181.5 190v5M182.5 155v12M182.5 190v6M183.5 151v7M184.5 153v7M185.5 161v6M186.5 171v25M191.5 190v7M192.5 182v7M193.5 166v28M202.5 183v10M207.5 155v8M222.5 168v12M222.5 183v8M223.5 167v9M224.5 159v6M225.5 157v9M225.5 182v13M228.5 183v12M229.5 194v1M233.5 159v36M234.5 157v5M235.5 171v24M236.5 186v9M237.5 194v1M239.5 173v22M240.5 183v8M241.5 175v6M242.5 181v7M246.5 189v3M248.5 189v3M249.5 184v6M250.5 175v4M251.5 174v4M252.5 180v4M253.5 182v9M255.5 166v14M256.5 161v9M256.5 177v8M257.5 150v39M258.5 157v7M258.5 169v21M268.5 171v4M269.5 169v9M270.5 162v19M272.5 157v16M273.5 156v7M273.5 172v17M274.5 166v20M275.5 163v8M276.5 186v2M277.5 176v12M278.5 178v9M279.5 180v10M280.5 176v15M281.5 172v19M282.5 168v23M283.5 167v6M283.5 188v3M286.5 166v21M287.5 167v24M290.5 154v22M299.5 186v3M300.5 154v19M300.5 185v4M301.5 150v9M301.5 163v25M302.5 152v14M306.5 182v6M310.5 145v14M311.5 147v14M312.5 146v4M312.5 167v6M312.5 185v3M313.5 152v9M313.5 185v3M314.5 173v9M315.5 187v1M318.5 158v10M319.5 157v3M320.5 164v2M321.5 173v3M322.5 172v2M323.5 172v2M324.5 169v2M325.5 154v3M326.5 149v4M330.5 182v3M331.5 159v25M332.5 168v17M333.5 158v27M334.5 180v6M336.5 181v5M337.5 181v4M340.5 173v10M341.5 170v4M342.5 175v8M343.5 175v5M344.5 171v7M345.5 168v7M346.5 171v8M347.5 179v5M348.5 182v1M353.5 174v5M354.5 162v9M355.5 171v7M356.5 173v11M358.5 180v3M359.5 175v5M360.5 177v4M363.5 182v1M364.5 175v8M367.5 163v6M368.5 167v9M369.5 163v10M397.5 177v3M398.5 177v3M399.5 171v4M402.5 174v6M403.5 157v6M404.5 157v4M405.5 158v4M406.5 162v12M415.5 170v10"/>
<path stroke="#f79342" d="M53.5 178v4M54.5 146v29M82.5 159v5M83.5 156v6M84.5 142v9M85.5 143v5M86.5 150v2M87.5 152v2M88.5 150v3M89.5 147v5M90.5 148v4M91.5 144v5M92.5 146v6M93.5 150v5M94.5 145v8M95.5 144v5M96.5 154v4M97.5 156v7M98.5 145v5M99.5 148v9M99.5 188v4M100.5 149v7M100.5 190v4M101.5 146v4M102.5 155v13M103.5 158v6M104.5 190v9M107.5 184v14M108.5 160v19M109.5 170v4M110.5 148v15M110.5 169v4M111.5 158v15M112.5 164v21M113.5 146v6M113.5 183v16M114.5 144v6M114.5 192v7M115.5 151v7M115.5 171v15M115.5 193v6M116.5 153v21M116.5 175v24M117.5 159v11M117.5 181v18M118.5 165v9M118.5 176v10M119.5 148v19M119.5 176v5M120.5 145v5M120.5 181v5M121.5 149v7M121.5 187v6M122.5 155v8M122.5 180v7M123.5 155v9M123.5 177v6M124.5 159v5M125.5 157v3M125.5 179v21M126.5 141v6M126.5 190v10M127.5 138v5M127.5 177v5M128.5 143v4M128.5 186v3M129.5 144v3M130.5 145v3M131.5 149v3M131.5 192v8M132.5 151v4M132.5 191v9M133.5 150v7M133.5 183v17M134.5 142v4M135.5 148v4M136.5 148v5M137.5 156v7M138.5 155v5M139.5 153v3M140.5 151v4M141.5 153v8M141.5 182v18M142.5 144v5M143.5 158v9M144.5 152v8M145.5 151v5M146.5 156v5M147.5 158v10M147.5 174v15M149.5 160v14M150.5 149v3M150.5 171v3M151.5 144v3M152.5 151v4M153.5 153v3M154.5 159v2M155.5 158v2M156.5 154v4M157.5 163v3M158.5 171v3M159.5 170v4M164.5 179v7M165.5 176v7M166.5 179v9M167.5 174v6M168.5 184v12M169.5 189v7M170.5 176v6M171.5 173v11M172.5 187v10M174.5 190v7M175.5 166v9M176.5 176v9M177.5 186v9M181.5 167v23M182.5 167v23M183.5 158v10M183.5 193v3M184.5 160v8M185.5 167v18M192.5 189v7M193.5 194v3M207.5 163v30M222.5 180v3M223.5 176v12M223.5 191v4M224.5 165v10M224.5 191v4M225.5 166v16M234.5 162v11M240.5 191v4M241.5 181v5M242.5 188v5M249.5 190v2M250.5 179v4M251.5 178v4M252.5 184v7M255.5 180v10M256.5 185v6M257.5 189v2M258.5 164v5M273.5 163v9M275.5 171v20M290.5 176v14M301.5 159v4M301.5 188v1M302.5 166v14M312.5 150v6M312.5 159v8M314.5 182v5M319.5 160v2M320.5 166v2M321.5 176v2M322.5 174v2M323.5 174v1M324.5 171v1M325.5 157v3M326.5 153v2M331.5 184v1M340.5 183v1M341.5 174v10M343.5 180v3M344.5 178v4M345.5 175v9M346.5 179v5M354.5 171v13M355.5 178v6M359.5 180v3M360.5 181v2M367.5 169v6M367.5 181v2M368.5 176v6M369.5 173v9M399.5 175v5M403.5 163v12M403.5 177v3M404.5 161v19M405.5 162v10M406.5 174v6"/>
<path stroke="#f58c46" d="M53.5 182v7M54.5 175v4M82.5 164v5M83.5 162v4M84.5 151v8M85.5 148v4M86.5 152v2M87.5 154v2M88.5 153v3M89.5 152v5M90.5 152v3M91.5 149v3M92.5 152v3M93.5 155v4M94.5 153v4M95.5 149v4M96.5 158v5M97.5 163v8M98.5 150v8M99.5 157v12M99.5 184v4M100.5 156v24M100.5 184v6M101.5 150v6M101.5 162v14M102.5 168v6M102.5 197v2M103.5 164v5M108.5 179v11M108.5 193v6M109.5 174v16M110.5 173v11M111.5 173v12M112.5 185v4M113.5 152v7M113.5 177v6M114.5 150v5M114.5 167v2M114.5 181v11M116.5 174v1M117.5 170v11M118.5 174v2M119.5 167v9M120.5 150v7M120.5 176v5M121.5 156v7M121.5 178v9M122.5 163v7M122.5 176v4M123.5 164v13M126.5 147v5M126.5 179v11M127.5 143v5M127.5 172v5M128.5 147v4M128.5 183v3M129.5 147v5M129.5 195v5M130.5 148v3M131.5 152v2M131.5 188v4M132.5 155v7M132.5 177v14M133.5 157v6M133.5 179v4M134.5 146v5M135.5 152v2M136.5 153v6M137.5 163v4M138.5 160v4M139.5 156v3M140.5 155v6M141.5 161v21M142.5 149v6M143.5 167v4M144.5 160v4M145.5 156v4M146.5 161v9M146.5 189v11M150.5 152v5M150.5 168v3M151.5 147v3M151.5 181v19M152.5 155v3M153.5 156v2M154.5 161v2M155.5 160v2M155.5 199v1M156.5 158v3M157.5 166v4M158.5 174v4M158.5 196v3M159.5 174v5M159.5 198v1M164.5 186v9M164.5 197v1M165.5 183v6M166.5 188v4M167.5 180v6M168.5 196v1M169.5 196v1M170.5 182v7M171.5 184v13M175.5 175v18M176.5 185v8M183.5 168v25M184.5 168v27M185.5 185v10M192.5 196v1M223.5 188v3M224.5 175v16M234.5 173v22M241.5 186v8M250.5 183v8M251.5 182v6M255.5 190v1M302.5 180v9M312.5 156v3M314.5 187v1M319.5 162v2M320.5 168v1M321.5 178v3M322.5 176v2M323.5 175v2M324.5 172v2M325.5 160v3M326.5 155v3M344.5 182v2M367.5 175v6M403.5 175v2M405.5 172v8"/>
<path stroke="#f2844b" d="M53.5 189v2M54.5 179v4M82.5 169v27M83.5 166v5M84.5 159v8M85.5 152v3M86.5 154v2M87.5 156v2M88.5 156v2M89.5 157v4M90.5 155v3M91.5 152v2M92.5 155v3M93.5 159v3M94.5 157v3M95.5 153v3M96.5 163v5M97.5 171v6M98.5 158v7M98.5 194v5M99.5 169v15M100.5 180v4M101.5 156v6M101.5 176v6M101.5 193v6M102.5 174v4M102.5 190v7M103.5 169v4M103.5 190v9M108.5 190v3M109.5 190v9M110.5 184v6M111.5 185v5M112.5 189v10M113.5 159v18M114.5 155v12M114.5 169v12M120.5 157v19M121.5 163v15M122.5 170v6M126.5 152v27M127.5 148v4M127.5 168v4M128.5 151v3M128.5 180v3M129.5 152v3M129.5 192v3M130.5 151v3M130.5 193v7M131.5 154v3M131.5 185v3M132.5 162v15M133.5 163v16M134.5 151v4M135.5 154v3M136.5 159v3M137.5 167v3M138.5 164v3M139.5 159v4M140.5 161v39M142.5 155v4M142.5 190v10M143.5 171v3M143.5 189v11M144.5 164v3M145.5 160v3M146.5 170v19M150.5 157v11M151.5 150v5M151.5 177v4M152.5 158v3M153.5 158v2M154.5 163v2M154.5 199v1M155.5 162v2M155.5 197v2M156.5 161v3M156.5 197v2M157.5 170v4M157.5 197v2M158.5 178v5M158.5 193v3M159.5 179v19M164.5 195v2M165.5 189v6M166.5 192v4M167.5 186v6M170.5 189v8M175.5 193v3M176.5 193v3M251.5 188v3M319.5 164v3M320.5 169v2M321.5 181v5M322.5 178v3M323.5 177v3M324.5 174v2M325.5 163v2M326.5 158v2"/>
<path stroke="#ef7e50" d="M54.5 183v6M83.5 171v11M83.5 195v2M84.5 167v6M85.5 155v3M86.5 156v2M86.5 197v1M87.5 158v3M87.5 197v1M88.5 158v2M89.5 161v3M90.5 158v3M91.5 154v3M92.5 158v3M92.5 194v4M93.5 162v4M93.5 196v2M94.5 160v4M95.5 156v4M96.5 168v4M97.5 177v22M98.5 165v4M98.5 188v6M101.5 182v11M102.5 178v12M103.5 173v17M110.5 190v5M111.5 190v8M127.5 152v4M127.5 165v3M128.5 154v3M128.5 177v3M129.5 155v3M129.5 188v4M130.5 154v2M130.5 190v3M131.5 157v3M131.5 182v3M134.5 155v4M135.5 157v5M136.5 162v4M137.5 170v2M138.5 167v3M139.5 163v5M139.5 199v1M142.5 159v8M142.5 185v5M143.5 174v15M144.5 167v2M145.5 163v4M145.5 197v3M151.5 155v6M151.5 173v4M152.5 161v2M153.5 160v1M154.5 165v1M154.5 197v2M155.5 164v3M155.5 196v1M156.5 164v2M156.5 195v2M157.5 174v4M157.5 195v2M158.5 183v10M165.5 195v2M166.5 196v1M167.5 192v4M319.5 167v2M319.5 184v3M320.5 171v2M321.5 186v1M322.5 181v6M323.5 180v4M324.5 176v2M325.5 165v2M326.5 160v3"/>
<path stroke="#eb7655" d="M54.5 189v4M59.5 194v2M83.5 182v13M84.5 173v6M84.5 190v7M85.5 158v4M85.5 191v7M86.5 158v4M86.5 193v4M87.5 161v2M87.5 195v2M88.5 160v2M89.5 164v2M90.5 161v3M91.5 157v3M92.5 161v4M92.5 191v3M93.5 166v3M93.5 192v4M94.5 164v3M95.5 160v3M96.5 172v4M98.5 169v5M98.5 179v9M110.5 195v4M111.5 198v1M127.5 156v9M128.5 157v20M129.5 158v2M129.5 185v3M130.5 156v2M130.5 188v2M131.5 160v4M131.5 180v2M134.5 159v4M135.5 162v7M136.5 166v3M137.5 172v2M138.5 170v2M139.5 168v4M139.5 185v14M142.5 167v6M142.5 178v7M144.5 169v3M144.5 195v5M145.5 167v4M145.5 187v10M151.5 161v12M152.5 163v2M152.5 198v2M153.5 161v2M153.5 199v1M154.5 166v2M154.5 196v1M155.5 167v2M155.5 194v2M156.5 166v4M156.5 194v1M157.5 178v3M157.5 192v3M167.5 196v1M319.5 169v3M319.5 180v4M320.5 173v2M323.5 184v3M324.5 178v2M325.5 167v2M326.5 163v2M326.5 185v2"/>
<path stroke="#e87059" d="M84.5 179v11M85.5 162v7M85.5 187v4M86.5 162v3M86.5 191v2M87.5 163v2M87.5 194v1M88.5 162v2M89.5 166v2M90.5 164v2M91.5 160v3M92.5 165v3M92.5 189v2M93.5 169v4M93.5 188v4M94.5 167v2M95.5 163v3M96.5 176v23M98.5 174v5M129.5 160v3M129.5 183v2M130.5 158v2M130.5 186v2M131.5 164v5M131.5 177v3M134.5 163v4M134.5 184v16M135.5 169v5M135.5 178v22M136.5 169v3M136.5 193v7M137.5 174v2M137.5 195v5M138.5 172v1M138.5 195v5M139.5 172v13M142.5 173v5M144.5 172v2M144.5 185v10M145.5 171v3M145.5 180v7M152.5 165v2M152.5 196v2M153.5 163v1M153.5 198v1M154.5 168v2M154.5 194v2M155.5 169v2M155.5 193v1M156.5 170v4M156.5 192v2M157.5 181v7M157.5 190v2M319.5 172v8M320.5 175v5M320.5 185v3M324.5 180v4M325.5 169v2M326.5 165v4M326.5 178v7"/>
<path stroke="#e4695e" d="M85.5 169v18M86.5 165v3M86.5 189v2M87.5 165v1M87.5 193v1M88.5 164v2M88.5 197v1M89.5 168v2M90.5 166v2M91.5 163v3M91.5 196v2M92.5 168v3M92.5 187v2M93.5 173v15M94.5 169v3M94.5 193v5M95.5 166v2M129.5 163v3M129.5 181v2M130.5 160v2M130.5 183v3M131.5 169v8M134.5 167v7M134.5 176v8M135.5 174v4M136.5 172v21M137.5 176v3M137.5 193v2M138.5 173v2M138.5 189v6M144.5 174v11M145.5 174v6M152.5 167v3M152.5 194v2M153.5 164v2M153.5 196v2M154.5 170v2M154.5 193v1M155.5 171v2M155.5 191v2M156.5 174v8M156.5 190v2M157.5 188v2M320.5 180v5M324.5 184v3M325.5 171v5M325.5 186v1M326.5 169v9"/>
<path stroke="#e06363" d="M86.5 168v4M86.5 181v8M87.5 166v2M87.5 191v2M88.5 166v1M88.5 196v1M89.5 170v1M90.5 168v2M91.5 166v2M91.5 194v2M92.5 171v3M92.5 184v3M94.5 172v2M94.5 189v4M95.5 168v2M95.5 196v3M129.5 166v4M129.5 177v4M130.5 162v3M130.5 181v2M134.5 174v2M137.5 179v14M138.5 175v14M152.5 170v3M152.5 192v2M153.5 166v2M153.5 195v1M154.5 172v2M154.5 192v1M155.5 173v4M155.5 190v1M156.5 182v8M325.5 176v10M398.5 180v1"/>
<path stroke="#dc5d67" d="M72.5 195v2M86.5 172v9M87.5 168v2M87.5 190v1M88.5 167v2M88.5 195v1M89.5 171v2M90.5 170v2M90.5 197v1M91.5 168v2M91.5 193v1M92.5 174v10M94.5 174v15M95.5 170v3M95.5 192v4M129.5 170v7M130.5 165v4M130.5 178v3M152.5 173v19M153.5 168v1M153.5 193v2M154.5 174v3M154.5 190v2M155.5 177v13M352.5 184v1M398.5 181v3"/>
<path stroke="#d7566c" d="M87.5 170v2M87.5 187v3M88.5 169v1M88.5 194v1M89.5 173v1M89.5 197v1M90.5 172v1M90.5 196v1M91.5 170v2M91.5 191v2M95.5 173v3M95.5 190v2M130.5 169v9M151.5 200v3M153.5 169v2M153.5 192v1M154.5 177v13M352.5 185v2M377.5 201v2M398.5 184v2M400.5 202v1"/>
<path stroke="#d35171" d="M87.5 172v2M87.5 183v4M88.5 170v2M88.5 193v1M89.5 174v1M90.5 173v2M90.5 195v1M91.5 172v1M91.5 189v2M95.5 176v14M153.5 171v2M153.5 190v2M351.5 196v7M352.5 187v1M352.5 198v5M377.5 199v2M398.5 186v7M399.5 202v1M400.5 201v1M402.5 180v1"/>
<path stroke="#cd4a76" d="M87.5 174v9M88.5 172v1M88.5 192v1M89.5 175v2M89.5 196v1M90.5 175v2M90.5 194v1M91.5 173v3M91.5 184v5M153.5 173v5M153.5 180v10M350.5 190v2M351.5 189v7M352.5 188v3M352.5 192v6M369.5 196v7M370.5 201v2M377.5 197v2M398.5 193v2M398.5 201v2M399.5 188v5M399.5 200v2M400.5 200v1"/>
<path stroke="#c9447a" d="M70.5 195v3M88.5 173v1M88.5 191v1M89.5 177v1M89.5 195v1M90.5 177v2M90.5 193v1M91.5 176v8M153.5 178v2M175.5 202v1M350.5 187v3M350.5 192v10M351.5 183v6M352.5 191v1M369.5 194v2M370.5 199v2M377.5 190v7M398.5 195v6M399.5 186v2M399.5 193v2M399.5 198v2M400.5 199v1M407.5 180v4M407.5 201v2M408.5 202v1"/>
<path stroke="#c33d80" d="M88.5 174v3M88.5 190v1M89.5 178v2M89.5 194v1M90.5 179v2M150.5 200v3M155.5 202v1M175.5 201v1M233.5 198v2M350.5 183v4M350.5 202v1M353.5 184v2M353.5 193v3M369.5 193v1M370.5 197v2M377.5 181v9M399.5 183v3M399.5 195v3M400.5 198v1M401.5 180v1M405.5 202v1M406.5 202v1M407.5 184v1M407.5 199v2M408.5 200v2"/>
<path stroke="#be3885" d="M88.5 177v5M88.5 184v6M89.5 180v2M89.5 193v1M90.5 181v3M90.5 191v2M100.5 199v4M154.5 202v1M155.5 200v2M175.5 200v1M233.5 196v2M233.5 200v3M349.5 196v7M353.5 186v7M353.5 196v2M369.5 191v2M370.5 195v2M376.5 192v11M378.5 201v2M399.5 180v3M400.5 180v6M400.5 197v1M403.5 180v1M405.5 200v2M406.5 200v2M407.5 185v1M407.5 198v1M408.5 199v1M410.5 195v1"/>
<path stroke="#b7318a" d="M88.5 182v2M89.5 182v1M89.5 192v1M90.5 184v4M90.5 190v1M101.5 199v3M154.5 201v1M175.5 199v1M233.5 195v1M344.5 202v1M349.5 193v3M353.5 198v2M369.5 182v2M369.5 187v4M370.5 192v3M376.5 181v2M376.5 191v1M378.5 181v5M378.5 199v2M400.5 186v2M400.5 196v1M404.5 187v10M405.5 199v1M407.5 186v1M407.5 197v1M408.5 198v1M410.5 180v6M410.5 193v2M410.5 196v2"/>
<path stroke="#b22b8f" d="M89.5 183v2M89.5 191v1M90.5 188v2M101.5 202v1M112.5 200v3M136.5 200v3M154.5 200v1M175.5 198v1M204.5 202v1M221.5 194v1M232.5 198v5M343.5 183v5M344.5 184v3M344.5 200v2M349.5 191v2M353.5 200v3M369.5 184v3M370.5 182v2M370.5 189v3M376.5 183v2M376.5 189v2M378.5 186v4M378.5 196v3M400.5 188v1M400.5 195v1M404.5 185v2M404.5 197v1M405.5 186v5M405.5 195v4M406.5 181v6M406.5 199v1M407.5 187v1M407.5 196v1M408.5 180v4M408.5 197v1M409.5 199v4M410.5 186v2M410.5 191v2M410.5 198v1"/>
<path stroke="#ac2694" d="M87.5 198v5M89.5 185v2M89.5 190v1M112.5 199v1M152.5 201v2M175.5 196v2M204.5 200v2M221.5 195v1M232.5 195v3M234.5 198v5M271.5 201v2M291.5 190v5M330.5 185v1M330.5 202v1M343.5 188v2M343.5 199v4M344.5 187v4M344.5 198v2M349.5 189v2M368.5 199v4M370.5 184v5M376.5 185v4M378.5 190v6M386.5 192v4M386.5 200v3M400.5 189v6M404.5 184v1M404.5 198v2M405.5 185v1M405.5 191v4M406.5 180v1M406.5 187v1M406.5 198v1M407.5 188v1M407.5 194v2M408.5 184v2M408.5 194v3M409.5 197v2M410.5 188v3M410.5 199v3M411.5 180v5"/>
<path stroke="#a51f99" d="M88.5 200v3M89.5 187v3M111.5 202v1M113.5 201v2M121.5 200v3M122.5 200v1M134.5 200v3M152.5 200v1M156.5 199v4M174.5 201v2M176.5 202v1M204.5 199v1M208.5 193v5M221.5 196v1M230.5 195v2M234.5 196v2M271.5 199v2M272.5 199v4M273.5 191v3M291.5 189v1M291.5 195v2M292.5 201v2M314.5 201v2M330.5 186v2M330.5 200v2M343.5 190v1M343.5 196v3M344.5 191v7M349.5 183v6M368.5 196v3M374.5 194v3M386.5 190v2M386.5 196v4M387.5 192v4M397.5 200v3M404.5 180v1M404.5 182v2M404.5 200v3M405.5 184v1M406.5 188v2M406.5 197v1M407.5 189v5M408.5 186v1M408.5 191v3M409.5 180v1M409.5 195v2M410.5 202v1M411.5 185v1M411.5 193v3"/>
<path stroke="#9e199d" d="M85.5 200v3M88.5 198v2M102.5 201v2M110.5 200v3M111.5 200v2M113.5 199v2M122.5 201v2M137.5 200v3M139.5 201v2M161.5 202v1M162.5 201v2M163.5 201v2M171.5 197v6M174.5 198v3M176.5 200v2M180.5 201v2M194.5 196v7M195.5 196v6M202.5 199v4M204.5 196v3M205.5 201v2M208.5 198v5M225.5 201v2M230.5 197v2M231.5 195v8M234.5 195v1M248.5 201v2M250.5 191v4M271.5 196v3M272.5 194v5M273.5 194v2M291.5 197v3M292.5 193v8M314.5 189v12M315.5 199v4M322.5 192v4M330.5 188v2M330.5 199v1M331.5 202v1M335.5 186v6M343.5 191v5M368.5 182v1M368.5 192v4M374.5 191v3M374.5 197v3M383.5 190v3M386.5 180v1M386.5 188v2M387.5 180v2M387.5 191v1M387.5 196v2M388.5 194v9M393.5 193v3M397.5 180v4M397.5 198v2M404.5 181v1M405.5 180v4M406.5 190v1M406.5 195v2M408.5 187v4M409.5 181v2M409.5 194v1M411.5 186v1M411.5 192v1M411.5 196v1"/>
<path stroke="#9613a1" d="M85.5 199v1M86.5 198v5M102.5 199v2M104.5 202v1M110.5 199v1M111.5 199v1M135.5 202v1M139.5 200v1M140.5 200v3M160.5 199v4M161.5 200v2M162.5 200v1M163.5 200v1M174.5 197v1M176.5 199v1M180.5 200v1M195.5 202v1M202.5 197v2M204.5 195v1M205.5 199v2M220.5 193v1M221.5 197v1M224.5 201v2M225.5 196v5M230.5 199v2M235.5 197v6M243.5 193v4M246.5 201v2M248.5 199v2M250.5 195v2M252.5 200v3M264.5 191v6M270.5 202v1M271.5 193v3M272.5 190v4M273.5 196v1M273.5 200v3M291.5 200v3M292.5 189v4M293.5 200v3M296.5 189v1M298.5 189v1M314.5 188v1M315.5 188v2M315.5 194v5M322.5 191v1M322.5 196v2M323.5 199v4M330.5 190v9M331.5 185v2M331.5 201v1M335.5 192v11M368.5 183v9M373.5 192v7M374.5 190v1M374.5 200v3M375.5 192v6M382.5 196v7M383.5 189v1M383.5 193v2M384.5 188v4M385.5 191v4M385.5 199v4M386.5 181v7M387.5 182v2M387.5 190v1M387.5 198v5M388.5 192v2M391.5 183v4M393.5 191v2M393.5 196v2M397.5 184v2M397.5 196v2M406.5 191v4M409.5 183v2M409.5 193v1M411.5 187v5M411.5 197v1"/>
<path stroke="#8f0da4" d="M83.5 197v1M84.5 197v6M85.5 198v1M99.5 200v3M104.5 199v3M114.5 199v2M135.5 200v2M153.5 200v3M159.5 199v2M161.5 198v2M163.5 199v1M167.5 202v1M176.5 197v2M180.5 199v1M197.5 196v1M201.5 198v5M202.5 195v2M203.5 196v6M205.5 194v5M207.5 193v2M220.5 194v1M221.5 198v2M224.5 200v1M225.5 195v1M230.5 201v2M235.5 195v2M243.5 197v1M246.5 200v1M247.5 201v2M248.5 197v2M250.5 197v1M251.5 191v1M252.5 198v2M259.5 190v2M264.5 197v2M270.5 200v2M271.5 190v3M273.5 197v3M275.5 191v3M293.5 198v2M294.5 189v14M295.5 197v6M296.5 190v2M298.5 190v1M301.5 197v6M302.5 189v6M315.5 190v4M319.5 191v2M322.5 189v2M322.5 198v5M323.5 192v7M331.5 187v8M331.5 199v2M333.5 193v4M334.5 191v9M348.5 193v6M361.5 186v2M371.5 183v1M371.5 200v3M373.5 190v2M373.5 199v4M374.5 189v1M375.5 191v1M375.5 198v3M382.5 194v2M383.5 187v2M383.5 195v2M384.5 183v5M384.5 192v2M385.5 187v4M385.5 195v4M387.5 184v1M387.5 189v1M388.5 180v1M391.5 181v2M391.5 187v4M391.5 193v10M392.5 194v1M393.5 190v1M393.5 198v1M394.5 184v5M397.5 186v2M397.5 192v4M409.5 185v1M409.5 191v2M419.5 189v4M421.5 202v1"/>
<path stroke="#8707a6" d="M83.5 198v1M99.5 199v1M103.5 199v1M114.5 201v2M157.5 199v3M158.5 199v1M159.5 201v2M162.5 199v1M166.5 201v2M167.5 199v3M176.5 196v1M179.5 196v7M193.5 201v2M196.5 196v2M196.5 201v2M197.5 197v1M201.5 195v3M203.5 195v1M203.5 202v1M207.5 195v7M220.5 195v1M221.5 200v2M224.5 198v2M226.5 195v1M236.5 195v2M243.5 198v2M244.5 193v3M246.5 199v1M247.5 200v1M248.5 192v2M248.5 195v2M249.5 194v5M250.5 198v1M251.5 192v2M251.5 201v2M252.5 197v1M259.5 192v2M263.5 194v2M264.5 199v2M269.5 190v1M270.5 190v5M270.5 198v2M274.5 191v2M275.5 194v1M284.5 194v9M285.5 194v9M293.5 196v2M295.5 189v8M296.5 192v1M297.5 189v1M298.5 191v1M301.5 194v3M302.5 195v8M306.5 188v2M313.5 194v7M319.5 189v2M319.5 193v2M322.5 187v2M323.5 189v3M329.5 186v4M331.5 195v4M332.5 191v6M333.5 188v5M333.5 197v2M334.5 186v5M334.5 200v3M342.5 187v5M348.5 184v9M348.5 199v2M361.5 184v2M361.5 188v2M362.5 183v5M367.5 200v3M371.5 182v1M371.5 184v2M371.5 196v4M373.5 188v2M374.5 188v1M375.5 190v1M375.5 201v2M379.5 186v1M381.5 184v3M381.5 196v5M382.5 192v2M383.5 186v1M383.5 197v3M384.5 182v1M384.5 194v1M385.5 184v3M387.5 185v4M388.5 181v2M388.5 191v1M391.5 180v1M391.5 191v2M392.5 192v2M392.5 195v2M393.5 181v9M393.5 199v1M394.5 182v2M394.5 189v3M397.5 188v4M409.5 186v5M411.5 198v1M419.5 187v2M419.5 193v2M420.5 202v1M421.5 200v2"/>
<path stroke="#8004a8" d="M83.5 199v1M89.5 200v3M98.5 199v1M103.5 200v3M109.5 199v4M120.5 200v3M138.5 201v2M157.5 202v1M158.5 200v3M162.5 198v1M163.5 198v1M166.5 198v3M167.5 197v2M168.5 197v5M170.5 197v3M172.5 201v2M178.5 195v3M179.5 195v1M180.5 198v1M183.5 196v4M184.5 201v2M190.5 201v2M193.5 197v4M196.5 198v3M197.5 198v1M200.5 195v5M207.5 202v1M220.5 196v1M221.5 202v1M222.5 195v2M224.5 195v3M226.5 196v3M229.5 195v5M236.5 197v1M237.5 195v2M243.5 200v3M244.5 196v7M245.5 192v9M246.5 198v1M247.5 199v1M248.5 194v1M249.5 192v2M249.5 199v3M250.5 199v2M251.5 194v7M252.5 191v6M256.5 191v3M257.5 192v4M259.5 194v2M263.5 191v3M263.5 196v3M264.5 201v2M269.5 191v1M270.5 195v3M274.5 193v2M274.5 199v4M275.5 195v1M276.5 192v7M277.5 195v4M278.5 196v7M282.5 200v3M284.5 191v3M285.5 193v1M293.5 194v2M296.5 193v1M297.5 190v1M299.5 189v1M301.5 190v4M306.5 190v2M307.5 189v2M308.5 188v3M313.5 188v6M313.5 201v2M319.5 187v2M319.5 195v2M323.5 187v2M329.5 190v13M332.5 186v5M332.5 197v2M333.5 185v3M333.5 199v1M336.5 199v4M337.5 185v2M339.5 189v2M340.5 187v4M340.5 201v2M342.5 183v4M342.5 192v9M348.5 183v1M348.5 201v2M358.5 183v6M358.5 198v5M361.5 183v1M361.5 190v1M362.5 188v3M367.5 198v2M371.5 186v1M371.5 194v2M373.5 183v5M374.5 186v2M375.5 188v2M379.5 183v3M379.5 187v2M381.5 183v1M381.5 187v2M381.5 195v1M381.5 201v2M382.5 190v2M383.5 184v2M383.5 200v3M384.5 180v2M384.5 195v2M385.5 180v4M388.5 183v1M388.5 190v1M392.5 190v2M392.5 197v1M393.5 180v1M393.5 200v2M394.5 180v2M394.5 192v2M411.5 199v1M419.5 186v1M419.5 195v2M420.5 200v2M421.5 198v2"/>
<path stroke="#7701a8" d="M54.5 193v1M82.5 196v2M83.5 200v3M89.5 198v2M90.5 202v1M98.5 200v3M105.5 201v2M115.5 199v1M123.5 200v1M133.5 200v3M138.5 200v1M147.5 202v1M149.5 200v1M164.5 198v5M165.5 198v5M166.5 197v1M168.5 202v1M169.5 197v3M170.5 200v3M172.5 197v4M178.5 198v2M180.5 197v1M183.5 200v3M184.5 195v2M184.5 198v3M189.5 197v6M190.5 197v4M197.5 199v2M199.5 195v2M200.5 200v1M206.5 193v1M220.5 197v1M222.5 197v1M226.5 199v1M229.5 200v3M236.5 198v2M237.5 197v2M245.5 201v2M246.5 192v1M246.5 197v1M247.5 192v1M247.5 198v1M249.5 202v1M250.5 201v2M256.5 194v2M257.5 191v1M257.5 196v2M259.5 196v4M263.5 199v1M265.5 190v1M265.5 196v2M269.5 192v1M269.5 201v2M274.5 195v4M275.5 196v2M276.5 191v1M276.5 199v3M277.5 193v2M277.5 199v2M278.5 193v3M280.5 191v3M281.5 191v2M282.5 191v1M282.5 198v2M283.5 191v1M285.5 192v1M290.5 190v7M293.5 189v5M296.5 194v1M297.5 191v1M298.5 192v1M299.5 190v2M299.5 198v5M301.5 189v1M305.5 194v3M306.5 192v1M307.5 188v1M307.5 191v2M308.5 191v1M309.5 188v2M319.5 197v3M319.5 202v1M320.5 192v4M321.5 193v3M324.5 201v2M326.5 192v5M332.5 185v1M332.5 199v2M333.5 200v1M336.5 186v2M336.5 197v2M337.5 187v1M339.5 188v1M339.5 191v2M340.5 186v1M340.5 191v2M340.5 199v2M341.5 199v4M342.5 201v2M345.5 187v5M358.5 189v1M358.5 196v2M359.5 183v1M360.5 183v5M361.5 191v2M362.5 191v3M365.5 184v19M367.5 196v2M371.5 187v2M371.5 193v1M372.5 181v4M373.5 182v1M374.5 181v5M375.5 181v7M379.5 181v2M379.5 189v2M379.5 194v5M380.5 197v6M381.5 182v1M381.5 189v6M382.5 184v6M383.5 182v2M384.5 197v1M388.5 184v2M388.5 188v2M392.5 188v2M392.5 198v2M393.5 202v1M394.5 194v9M411.5 200v1M419.5 184v2M419.5 197v6M420.5 189v5M420.5 198v2M421.5 196v2M422.5 179v1M423.5 184v1"/>
<path stroke="#6f00a8" d="M82.5 198v1M90.5 198v4M91.5 198v5M97.5 199v4M105.5 199v2M115.5 200v3M123.5 201v1M141.5 202v1M147.5 200v2M149.5 201v2M165.5 197v1M169.5 200v3M178.5 200v2M180.5 196v1M184.5 197v1M187.5 202v1M197.5 201v2M198.5 196v1M199.5 197v1M200.5 201v2M206.5 194v2M206.5 201v2M209.5 193v7M220.5 198v1M222.5 198v1M226.5 200v2M236.5 200v1M237.5 199v1M246.5 193v4M247.5 193v1M247.5 196v2M256.5 196v1M257.5 198v4M258.5 190v11M259.5 200v3M263.5 200v2M265.5 191v5M265.5 198v3M269.5 193v1M269.5 200v1M275.5 198v5M276.5 202v1M277.5 191v2M277.5 201v2M278.5 190v3M279.5 190v1M280.5 194v2M281.5 193v3M282.5 192v6M283.5 192v8M285.5 191v1M290.5 197v2M296.5 195v8M297.5 192v1M298.5 193v1M299.5 192v6M303.5 195v7M305.5 192v2M305.5 197v2M306.5 193v2M308.5 192v1M309.5 190v4M319.5 200v2M320.5 190v2M320.5 196v2M321.5 192v1M321.5 196v1M324.5 199v2M325.5 197v3M326.5 191v1M326.5 197v2M332.5 201v2M333.5 201v1M336.5 188v2M336.5 196v1M337.5 188v1M337.5 197v3M338.5 192v6M339.5 187v1M339.5 193v1M340.5 185v1M340.5 193v1M340.5 198v1M341.5 191v8M345.5 185v2M345.5 192v2M347.5 195v3M354.5 188v15M358.5 190v2M358.5 194v2M359.5 184v4M360.5 188v1M361.5 193v3M362.5 194v3M363.5 190v3M365.5 183v1M367.5 188v8M371.5 189v4M372.5 185v2M372.5 195v1M372.5 199v4M373.5 181v1M379.5 191v3M379.5 199v2M380.5 195v2M381.5 181v1M382.5 180v4M383.5 180v2M384.5 198v1M388.5 186v2M390.5 185v5M390.5 198v5M392.5 180v8M392.5 200v1M411.5 201v2M415.5 182v2M417.5 189v3M418.5 181v12M419.5 180v4M420.5 187v2M420.5 194v4M421.5 187v9M422.5 180v7M423.5 181v3M423.5 185v3"/>
<path stroke="#6700a8" d="M82.5 199v2M123.5 202v1M124.5 200v2M127.5 200v3M141.5 200v2M173.5 197v3M177.5 195v8M178.5 202v1M180.5 195v1M187.5 199v3M191.5 197v1M198.5 197v4M199.5 198v2M206.5 196v5M209.5 200v3M220.5 199v1M222.5 199v2M223.5 201v2M226.5 202v1M236.5 201v2M237.5 200v3M238.5 195v2M239.5 200v3M242.5 193v5M247.5 194v2M256.5 197v1M257.5 202v1M258.5 201v2M263.5 202v1M265.5 201v2M268.5 201v2M269.5 194v1M269.5 198v2M279.5 191v6M280.5 196v2M281.5 196v3M283.5 200v3M290.5 199v2M297.5 193v1M298.5 194v2M300.5 189v1M300.5 199v2M303.5 189v6M303.5 202v1M305.5 190v2M305.5 199v1M306.5 195v1M307.5 193v1M308.5 193v1M309.5 194v2M312.5 188v1M312.5 192v11M316.5 187v2M316.5 195v4M318.5 194v4M320.5 188v2M321.5 191v1M321.5 197v1M324.5 197v2M325.5 194v3M325.5 200v3M326.5 189v2M326.5 199v2M333.5 202v1M336.5 190v2M336.5 194v2M337.5 189v2M337.5 195v2M337.5 200v3M338.5 187v5M338.5 198v1M339.5 186v1M339.5 194v1M340.5 184v1M340.5 194v4M341.5 187v4M345.5 184v1M345.5 194v9M347.5 192v3M347.5 198v2M354.5 184v4M357.5 184v1M357.5 200v3M358.5 192v2M359.5 188v2M360.5 189v1M361.5 196v3M362.5 197v3M363.5 188v2M363.5 193v2M363.5 201v2M366.5 184v4M366.5 201v2M367.5 183v5M372.5 187v1M372.5 192v3M372.5 196v3M379.5 201v2M380.5 181v10M380.5 192v3M381.5 180v1M384.5 199v2M389.5 201v2M390.5 183v2M390.5 190v8M392.5 201v2M395.5 202v1M396.5 184v5M415.5 181v1M417.5 186v3M417.5 192v11M418.5 180v1M418.5 193v4M420.5 180v1M421.5 179v1M421.5 186v1M422.5 187v2M422.5 199v4M423.5 179v2M423.5 188v1"/>
<path stroke="#5e01a6" d="M55.5 193v1M82.5 201v2M108.5 199v4M124.5 202v1M126.5 201v2M148.5 202v1M173.5 200v3M185.5 201v2M187.5 196v3M188.5 201v2M191.5 198v5M198.5 201v2M199.5 200v1M217.5 194v4M219.5 193v2M220.5 200v3M222.5 201v2M223.5 195v1M223.5 198v3M227.5 198v5M238.5 197v3M239.5 198v2M242.5 198v5M256.5 198v2M268.5 190v1M268.5 199v2M269.5 195v3M279.5 197v2M280.5 198v2M281.5 199v2M290.5 201v2M297.5 194v2M298.5 196v7M300.5 190v3M300.5 195v4M300.5 201v2M303.5 188v1M304.5 197v6M305.5 188v2M305.5 200v2M306.5 196v1M307.5 194v1M308.5 194v1M309.5 196v1M312.5 189v3M316.5 189v6M316.5 199v3M318.5 187v7M318.5 198v5M320.5 198v1M321.5 187v4M324.5 194v3M325.5 193v1M326.5 188v1M326.5 201v2M336.5 192v2M337.5 191v4M338.5 185v2M338.5 199v2M339.5 195v2M341.5 184v3M347.5 190v2M347.5 200v3M357.5 185v5M357.5 193v7M359.5 190v5M360.5 190v1M361.5 199v2M362.5 200v3M363.5 183v5M363.5 195v6M364.5 183v1M364.5 191v6M364.5 202v1M366.5 183v1M366.5 188v13M372.5 188v4M380.5 180v1M380.5 191v1M384.5 201v2M389.5 191v10M390.5 182v1M395.5 185v6M395.5 200v2M396.5 183v1M396.5 189v1M396.5 201v2M415.5 180v1M417.5 182v4M418.5 197v3M420.5 181v1M420.5 185v2M421.5 180v1M421.5 185v1M422.5 189v10M423.5 178v1M423.5 189v3"/>
<path stroke="#5601a4" d="M92.5 201v2M93.5 201v2M106.5 201v2M126.5 200v1M146.5 200v3M148.5 200v2M182.5 197v6M185.5 199v2M188.5 197v4M199.5 201v2M217.5 193v1M217.5 198v2M218.5 193v4M219.5 195v1M223.5 196v2M227.5 195v3M238.5 200v3M239.5 196v2M256.5 200v3M268.5 191v8M279.5 199v1M280.5 200v1M281.5 201v2M297.5 196v2M300.5 193v2M304.5 192v5M305.5 202v1M306.5 197v6M308.5 195v8M309.5 197v1M316.5 202v1M320.5 199v1M321.5 198v1M324.5 192v2M325.5 191v2M326.5 187v1M327.5 192v3M328.5 186v11M338.5 201v1M339.5 185v1M339.5 197v3M347.5 187v3M357.5 190v3M359.5 195v8M360.5 191v1M361.5 201v2M364.5 184v1M364.5 189v2M364.5 197v5M389.5 188v3M390.5 181v1M395.5 183v2M395.5 191v9M396.5 180v3M396.5 190v2M396.5 197v4M412.5 180v5M417.5 180v2M418.5 200v3M420.5 182v3M421.5 181v4M423.5 192v6"/>
<path stroke="#4c02a1" d="M56.5 193v1M92.5 198v3M93.5 198v3M94.5 198v1M96.5 199v2M106.5 198v3M116.5 200v3M129.5 200v3M132.5 201v2M142.5 200v1M182.5 196v1M185.5 195v4M192.5 202v1M217.5 200v2M218.5 197v1M219.5 196v1M228.5 195v8M239.5 195v1M260.5 193v2M279.5 200v1M280.5 201v2M286.5 193v4M297.5 198v3M304.5 190v2M307.5 195v1M307.5 201v2M310.5 188v1M317.5 193v2M320.5 200v1M321.5 199v1M324.5 190v2M325.5 189v2M327.5 190v2M327.5 195v3M328.5 197v3M338.5 202v1M339.5 200v3M346.5 187v2M346.5 197v4M347.5 185v2M360.5 192v1M364.5 185v4M389.5 186v2M390.5 180v1M395.5 182v1M396.5 192v5M412.5 185v1M416.5 184v5M423.5 198v5"/>
<path stroke="#44039e" d="M81.5 195v2M94.5 199v4M95.5 199v4M96.5 201v2M107.5 200v3M116.5 199v1M132.5 200v1M142.5 201v2M192.5 199v3M217.5 202v1M218.5 198v1M260.5 191v2M260.5 195v3M262.5 190v13M266.5 190v5M267.5 196v4M279.5 201v2M286.5 192v1M286.5 197v2M297.5 201v2M304.5 189v1M307.5 196v5M309.5 198v2M310.5 189v7M311.5 188v9M311.5 199v4M317.5 191v2M317.5 195v2M320.5 201v2M321.5 200v1M324.5 188v2M325.5 188v1M327.5 186v4M327.5 198v5M328.5 200v3M346.5 184v3M346.5 189v8M346.5 201v2M347.5 184v1M360.5 193v10M389.5 180v6M395.5 181v1M414.5 180v3M416.5 182v2M416.5 189v2M416.5 200v3"/>
<path stroke="#3a049a" d="M81.5 197v2M107.5 198v2M125.5 200v3M128.5 200v3M131.5 200v3M143.5 200v3M144.5 200v3M181.5 197v6M186.5 201v2M192.5 197v2M216.5 194v1M216.5 200v3M218.5 199v2M219.5 197v2M241.5 194v2M260.5 189v2M260.5 198v2M266.5 195v8M267.5 193v3M267.5 200v3M286.5 191v1M286.5 199v4M289.5 191v3M304.5 188v1M309.5 200v1M310.5 196v2M311.5 197v2M317.5 187v4M317.5 197v1M321.5 201v1M324.5 187v1M325.5 187v1M395.5 180v1M414.5 183v1M416.5 180v2M416.5 191v2M416.5 197v3"/>
<path stroke="#310597" d="M81.5 199v2M119.5 200v3M130.5 200v3M145.5 200v3M181.5 195v2M186.5 196v5M216.5 193v1M216.5 195v5M218.5 201v2M219.5 199v4M240.5 195v3M241.5 196v2M253.5 197v6M260.5 200v3M267.5 191v2M289.5 190v1M289.5 194v3M309.5 201v2M310.5 198v5M317.5 198v2M321.5 202v1M355.5 198v5M356.5 194v2M414.5 184v1M416.5 193v4"/>
<path stroke="#260591" d="M81.5 201v2M214.5 193v2M215.5 193v1M215.5 201v2M240.5 198v5M241.5 198v1M253.5 196v1M261.5 201v2M267.5 190v1M289.5 197v1M317.5 200v3M355.5 195v3M356.5 191v3M356.5 196v7M413.5 180v5"/>
<path stroke="#1b068d" d="M210.5 193v7M214.5 195v3M215.5 194v7M241.5 199v4M253.5 194v2M255.5 191v3M261.5 197v4M289.5 198v2M355.5 190v5M356.5 190v1"/>
<path stroke="#0d0887" d="M117.5 199v4M118.5 200v3M210.5 200v3M211.5 193v10M212.5 193v10M213.5 193v10M214.5 198v5M253.5 191v3M254.5 191v12M255.5 194v9M261.5 189v8M287.5 191v12M288.5 190v13M289.5 200v3M355.5 184v6M356.5 184v6"/>
</g>
<line x1="46.50" y1="197.49" x2="431.20" y2="197.49" stroke="#000" stroke-width="1" stroke-opacity="0.17"/>
<line x1="46.50" y1="172.97" x2="431.20" y2="172.97" stroke="#000" stroke-width="1" stroke-opacity="0.17"/>
<line x1="46.50" y1="148.46" x2="431.20" y2="148.46" stroke="#000" stroke-width="1" stroke-opacity="0.17"/>
<line x1="46.50" y1="123.95" x2="431.20" y2="123.95" stroke="#000" stroke-width="1" stroke-opacity="0.17"/>
<line x1="46.50" y1="99.44" x2="431.20" y2="99.44" stroke="#000" stroke-width="1" stroke-opacity="0.17"/>
<line x1="46.50" y1="74.93" x2="431.20" y2="74.93" stroke="#000" stroke-width="1" stroke-opacity="0.17"/>
<line x1="46.50" y1="50.41" x2="431.20" y2="50.41" stroke="#000" stroke-width="1" stroke-opacity="0.17"/>
<line x1="94.92" y1="25.90" x2="94.92" y2="222.00" stroke="#000" stroke-width="1" stroke-opacity="0.13"/>
<line x1="143.04" y1="25.90" x2="143.04" y2="222.00" stroke="#000" stroke-width="1" stroke-opacity="0.13"/>
<line x1="191.16" y1="25.90" x2="191.16" y2="222.00" stroke="#000" stroke-width="1" stroke-opacity="0.13"/>
<line x1="239.28" y1="25.90" x2="239.28" y2="222.00" stroke="#000" stroke-width="1" stroke-opacity="0.13"/>
<line x1="287.40" y1="25.90" x2="287.40" y2="222.00" stroke="#000" stroke-width="1" stroke-opacity="0.13"/>
<line x1="335.52" y1="25.90" x2="335.52" y2="222.00" stroke="#000" stroke-width="1" stroke-opacity="0.13"/>
<line x1="383.64" y1="25.90" x2="383.64" y2="222.00" stroke="#000" stroke-width="1" stroke-opacity="0.13"/>
<polyline fill="none" stroke="#000" stroke-width="2.1" stroke-linejoin="round" points="53,193.3 79,193.6 81,194.5 83,196.3 86,197.8 92,198.2 100,199 105,198.8 107,197.8 109,199 120,199.6 135,199.8 145,200 155,199.6 160,199 163,197.6 170,197.2 175,196.5 178,194.6 181,195 183,196 185,195.2 188,196.5 193,197 195,195.5 198,196 200,195 205,194.5 207,192.6 220,192.6 222,195 230,195.3 240,195 243,193 247,192 250,191.5 258,190.6 261,189 263,190.6 270,190.3 275,190.6 280,190.4 285,191.6 287,191 292,189 300,188.6 310,188.3 315,188 317,186.6 320,187.6 324,186.8 327,186.6 330,185.6 333,184.5 335,186 338,185.2 341,184 343,183 345,184.2 350,183 353,183.6 356,184.2 360,183 364,183.2 368,182.5 372,181.5 378,180.6 385,180.3 395,180 410,179.6 421,179.6 424,178 431,178"/>
<line x1="327.70" y1="25.90" x2="327.70" y2="222.00" stroke="#ff0000" stroke-width="2.3" />
<rect x="46.5" y="203.0" width="215.3" height="19.0" fill="#fff" stroke="#1c1c1c" stroke-width="1.1"/>
<line x1="51.30" y1="212.40" x2="70.00" y2="212.40" stroke="#ff0000" stroke-width="1.6" />
<text x="74.30" y="215.10" font-size="9.3" text-anchor="start" fill="#000" >Profile in (b)</text>
<line x1="140.00" y1="212.40" x2="158.50" y2="212.40" stroke="#000" stroke-width="2.0" />
<text x="163.40" y="215.10" font-size="9.3" text-anchor="start" fill="#000" >Detected melting layer</text>
<rect x="46.5" y="25.9" width="384.7" height="196.1" fill="none" stroke="#1c1c1c" stroke-width="1.25"/>
<line x1="37.00" y1="222.00" x2="46.50" y2="222.00" stroke="#1c1c1c" stroke-width="1.2" />
<text x="32.50" y="226.80" font-size="11.7" text-anchor="end" fill="#000" >0</text>
<line x1="41.90" y1="217.10" x2="46.50" y2="217.10" stroke="#1c1c1c" stroke-width="1.1" />
<line x1="41.90" y1="212.19" x2="46.50" y2="212.19" stroke="#1c1c1c" stroke-width="1.1" />
<line x1="41.90" y1="207.29" x2="46.50" y2="207.29" stroke="#1c1c1c" stroke-width="1.1" />
<line x1="41.90" y1="202.39" x2="46.50" y2="202.39" stroke="#1c1c1c" stroke-width="1.1" />
<line x1="37.00" y1="197.49" x2="46.50" y2="197.49" stroke="#1c1c1c" stroke-width="1.2" />
<text x="32.50" y="202.29" font-size="11.7" text-anchor="end" fill="#000" >1</text>
<line x1="41.90" y1="192.59" x2="46.50" y2="192.59" stroke="#1c1c1c" stroke-width="1.1" />
<line x1="41.90" y1="187.68" x2="46.50" y2="187.68" stroke="#1c1c1c" stroke-width="1.1" />
<line x1="41.90" y1="182.78" x2="46.50" y2="182.78" stroke="#1c1c1c" stroke-width="1.1" />
<line x1="41.90" y1="177.88" x2="46.50" y2="177.88" stroke="#1c1c1c" stroke-width="1.1" />
<line x1="37.00" y1="172.97" x2="46.50" y2="172.97" stroke="#1c1c1c" stroke-width="1.2" />
<text x="32.50" y="177.78" font-size="11.7" text-anchor="end" fill="#000" >2</text>
<line x1="41.90" y1="168.07" x2="46.50" y2="168.07" stroke="#1c1c1c" stroke-width="1.1" />
<line x1="41.90" y1="163.17" x2="46.50" y2="163.17" stroke="#1c1c1c" stroke-width="1.1" />
<line x1="41.90" y1="158.27" x2="46.50" y2="158.27" stroke="#1c1c1c" stroke-width="1.1" />
<line x1="41.90" y1="153.37" x2="46.50" y2="153.37" stroke="#1c1c1c" stroke-width="1.1" />
<line x1="37.00" y1="148.46" x2="46.50" y2="148.46" stroke="#1c1c1c" stroke-width="1.2" />
<text x="32.50" y="153.26" font-size="11.7" text-anchor="end" fill="#000" >3</text>
<line x1="41.90" y1="143.56" x2="46.50" y2="143.56" stroke="#1c1c1c" stroke-width="1.1" />
<line x1="41.90" y1="138.66" x2="46.50" y2="138.66" stroke="#1c1c1c" stroke-width="1.1" />
<line x1="41.90" y1="133.75" x2="46.50" y2="133.75" stroke="#1c1c1c" stroke-width="1.1" />
<line x1="41.90" y1="128.85" x2="46.50" y2="128.85" stroke="#1c1c1c" stroke-width="1.1" />
<line x1="37.00" y1="123.95" x2="46.50" y2="123.95" stroke="#1c1c1c" stroke-width="1.2" />
<text x="32.50" y="128.75" font-size="11.7" text-anchor="end" fill="#000" >4</text>
<line x1="41.90" y1="119.05" x2="46.50" y2="119.05" stroke="#1c1c1c" stroke-width="1.1" />
<line x1="41.90" y1="114.14" x2="46.50" y2="114.14" stroke="#1c1c1c" stroke-width="1.1" />
<line x1="41.90" y1="109.24" x2="46.50" y2="109.24" stroke="#1c1c1c" stroke-width="1.1" />
<line x1="41.90" y1="104.34" x2="46.50" y2="104.34" stroke="#1c1c1c" stroke-width="1.1" />
<line x1="37.00" y1="99.44" x2="46.50" y2="99.44" stroke="#1c1c1c" stroke-width="1.2" />
<text x="32.50" y="104.24" font-size="11.7" text-anchor="end" fill="#000" >5</text>
<line x1="41.90" y1="94.53" x2="46.50" y2="94.53" stroke="#1c1c1c" stroke-width="1.1" />
<line x1="41.90" y1="89.63" x2="46.50" y2="89.63" stroke="#1c1c1c" stroke-width="1.1" />
<line x1="41.90" y1="84.73" x2="46.50" y2="84.73" stroke="#1c1c1c" stroke-width="1.1" />
<line x1="41.90" y1="79.83" x2="46.50" y2="79.83" stroke="#1c1c1c" stroke-width="1.1" />
<line x1="37.00" y1="74.93" x2="46.50" y2="74.93" stroke="#1c1c1c" stroke-width="1.2" />
<text x="32.50" y="79.73" font-size="11.7" text-anchor="end" fill="#000" >6</text>
<line x1="41.90" y1="70.02" x2="46.50" y2="70.02" stroke="#1c1c1c" stroke-width="1.1" />
<line x1="41.90" y1="65.12" x2="46.50" y2="65.12" stroke="#1c1c1c" stroke-width="1.1" />
<line x1="41.90" y1="60.22" x2="46.50" y2="60.22" stroke="#1c1c1c" stroke-width="1.1" />
<line x1="41.90" y1="55.31" x2="46.50" y2="55.31" stroke="#1c1c1c" stroke-width="1.1" />
<line x1="37.00" y1="50.41" x2="46.50" y2="50.41" stroke="#1c1c1c" stroke-width="1.2" />
<text x="32.50" y="55.21" font-size="11.7" text-anchor="end" fill="#000" >7</text>
<line x1="41.90" y1="45.51" x2="46.50" y2="45.51" stroke="#1c1c1c" stroke-width="1.1" />
<line x1="41.90" y1="40.61" x2="46.50" y2="40.61" stroke="#1c1c1c" stroke-width="1.1" />
<line x1="41.90" y1="35.70" x2="46.50" y2="35.70" stroke="#1c1c1c" stroke-width="1.1" />
<line x1="41.90" y1="30.80" x2="46.50" y2="30.80" stroke="#1c1c1c" stroke-width="1.1" />
<line x1="37.00" y1="25.90" x2="46.50" y2="25.90" stroke="#1c1c1c" stroke-width="1.2" />
<text x="32.50" y="30.70" font-size="11.7" text-anchor="end" fill="#000" >8</text>
<line x1="46.80" y1="222.00" x2="46.80" y2="231.40" stroke="#1c1c1c" stroke-width="1.2" />
<text transform="translate(50.50,237.80) rotate(-90)" font-size="11.7" text-anchor="end" >Apr-14</text>
<line x1="58.83" y1="222.00" x2="58.83" y2="226.60" stroke="#1c1c1c" stroke-width="1.1" />
<line x1="70.86" y1="222.00" x2="70.86" y2="226.60" stroke="#1c1c1c" stroke-width="1.1" />
<line x1="82.89" y1="222.00" x2="82.89" y2="226.60" stroke="#1c1c1c" stroke-width="1.1" />
<line x1="94.92" y1="222.00" x2="94.92" y2="231.40" stroke="#1c1c1c" stroke-width="1.2" />
<text transform="translate(98.62,237.80) rotate(-90)" font-size="11.7" text-anchor="end" >03:00</text>
<line x1="106.95" y1="222.00" x2="106.95" y2="226.60" stroke="#1c1c1c" stroke-width="1.1" />
<line x1="118.98" y1="222.00" x2="118.98" y2="226.60" stroke="#1c1c1c" stroke-width="1.1" />
<line x1="131.01" y1="222.00" x2="131.01" y2="226.60" stroke="#1c1c1c" stroke-width="1.1" />
<line x1="143.04" y1="222.00" x2="143.04" y2="231.40" stroke="#1c1c1c" stroke-width="1.2" />
<text transform="translate(146.74,237.80) rotate(-90)" font-size="11.7" text-anchor="end" >06:00</text>
<line x1="155.07" y1="222.00" x2="155.07" y2="226.60" stroke="#1c1c1c" stroke-width="1.1" />
<line x1="167.10" y1="222.00" x2="167.10" y2="226.60" stroke="#1c1c1c" stroke-width="1.1" />
<line x1="179.13" y1="222.00" x2="179.13" y2="226.60" stroke="#1c1c1c" stroke-width="1.1" />
<line x1="191.16" y1="222.00" x2="191.16" y2="231.40" stroke="#1c1c1c" stroke-width="1.2" />
<text transform="translate(194.86,237.80) rotate(-90)" font-size="11.7" text-anchor="end" >09:00</text>
<line x1="203.19" y1="222.00" x2="203.19" y2="226.60" stroke="#1c1c1c" stroke-width="1.1" />
<line x1="215.22" y1="222.00" x2="215.22" y2="226.60" stroke="#1c1c1c" stroke-width="1.1" />
<line x1="227.25" y1="222.00" x2="227.25" y2="226.60" stroke="#1c1c1c" stroke-width="1.1" />
<line x1="239.28" y1="222.00" x2="239.28" y2="231.40" stroke="#1c1c1c" stroke-width="1.2" />
<text transform="translate(242.98,237.80) rotate(-90)" font-size="11.7" text-anchor="end" >12:00</text>
<line x1="251.31" y1="222.00" x2="251.31" y2="226.60" stroke="#1c1c1c" stroke-width="1.1" />
<line x1="263.34" y1="222.00" x2="263.34" y2="226.60" stroke="#1c1c1c" stroke-width="1.1" />
<line x1="275.37" y1="222.00" x2="275.37" y2="226.60" stroke="#1c1c1c" stroke-width="1.1" />
<line x1="287.40" y1="222.00" x2="287.40" y2="231.40" stroke="#1c1c1c" stroke-width="1.2" />
<text transform="translate(291.10,237.80) rotate(-90)" font-size="11.7" text-anchor="end" >15:00</text>
<line x1="299.43" y1="222.00" x2="299.43" y2="226.60" stroke="#1c1c1c" stroke-width="1.1" />
<line x1="311.46" y1="222.00" x2="311.46" y2="226.60" stroke="#1c1c1c" stroke-width="1.1" />
<line x1="323.49" y1="222.00" x2="323.49" y2="226.60" stroke="#1c1c1c" stroke-width="1.1" />
<line x1="335.52" y1="222.00" x2="335.52" y2="231.40" stroke="#1c1c1c" stroke-width="1.2" />
<text transform="translate(339.22,237.80) rotate(-90)" font-size="11.7" text-anchor="end" >18:00</text>
<line x1="347.55" y1="222.00" x2="347.55" y2="226.60" stroke="#1c1c1c" stroke-width="1.1" />
<line x1="359.58" y1="222.00" x2="359.58" y2="226.60" stroke="#1c1c1c" stroke-width="1.1" />
<line x1="371.61" y1="222.00" x2="371.61" y2="226.60" stroke="#1c1c1c" stroke-width="1.1" />
<line x1="383.64" y1="222.00" x2="383.64" y2="231.40" stroke="#1c1c1c" stroke-width="1.2" />
<text transform="translate(387.34,237.80) rotate(-90)" font-size="11.7" text-anchor="end" >21:00</text>
<line x1="395.67" y1="222.00" x2="395.67" y2="226.60" stroke="#1c1c1c" stroke-width="1.1" />
<line x1="407.70" y1="222.00" x2="407.70" y2="226.60" stroke="#1c1c1c" stroke-width="1.1" />
<line x1="419.73" y1="222.00" x2="419.73" y2="226.60" stroke="#1c1c1c" stroke-width="1.1" />
<text transform="translate(14.00,124.95) rotate(-90)" font-size="11.7" text-anchor="middle" >Height [km]</text>
<text x="237.70" y="14.40" font-size="11.7" text-anchor="middle" fill="#000" >Example Case (Prötzel Radar)</text>
<text x="46.50" y="14.40" font-size="11.7" text-anchor="start" fill="#000" font-weight="bold">a</text>
<text x="239.00" y="291.50" font-size="11.7" text-anchor="middle" fill="#000" >Time [UTC]</text>
<text x="431.00" y="289.50" font-size="11.7" text-anchor="end" fill="#000" >2023-Apr-14</text>
<defs><linearGradient id="cb" x1="0" y1="1" x2="0" y2="0">
<stop offset="0.0000" stop-color="#f0f921"/>
<stop offset="0.0417" stop-color="#f6e826"/>
<stop offset="0.0833" stop-color="#fbd524"/>
<stop offset="0.1250" stop-color="#fdc328"/>
<stop offset="0.1667" stop-color="#fdb42f"/>
<stop offset="0.2083" stop-color="#fca338"/>
<stop offset="0.2500" stop-color="#f89441"/>
<stop offset="0.2917" stop-color="#f3874a"/>
<stop offset="0.3333" stop-color="#ed7953"/>
<stop offset="0.3750" stop-color="#e56b5d"/>
<stop offset="0.4167" stop-color="#de5f65"/>
<stop offset="0.4583" stop-color="#d5536f"/>
<stop offset="0.5000" stop-color="#cb4679"/>
<stop offset="0.5417" stop-color="#c13b82"/>
<stop offset="0.5833" stop-color="#b52f8c"/>
<stop offset="0.6250" stop-color="#a82296"/>
<stop offset="0.6667" stop-color="#9c179e"/>
<stop offset="0.7083" stop-color="#8d0ba5"/>
<stop offset="0.7500" stop-color="#7d03a8"/>
<stop offset="0.7917" stop-color="#6e00a8"/>
<stop offset="0.8333" stop-color="#5c01a6"/>
<stop offset="0.8750" stop-color="#4b03a1"/>
<stop offset="0.9167" stop-color="#3a049a"/>
<stop offset="0.9583" stop-color="#260591"/>
<stop offset="1.0000" stop-color="#0d0887"/>
</linearGradient></defs>
<rect x="437.0" y="25.9" width="17.0" height="196.1" fill="url(#cb)"/>
<line x1="437.00" y1="189.32" x2="454.00" y2="189.32" stroke="#000" stroke-width="1" stroke-opacity="0.2"/>
<line x1="437.00" y1="156.63" x2="454.00" y2="156.63" stroke="#000" stroke-width="1" stroke-opacity="0.2"/>
<line x1="437.00" y1="123.95" x2="454.00" y2="123.95" stroke="#000" stroke-width="1" stroke-opacity="0.2"/>
<line x1="437.00" y1="91.27" x2="454.00" y2="91.27" stroke="#000" stroke-width="1" stroke-opacity="0.2"/>
<line x1="437.00" y1="58.58" x2="454.00" y2="58.58" stroke="#000" stroke-width="1" stroke-opacity="0.2"/>
<rect x="437.0" y="25.9" width="17.0" height="196.1" fill="none" stroke="#1c1c1c" stroke-width="1.25"/>
<line x1="454.00" y1="222.00" x2="463.40" y2="222.00" stroke="#1c1c1c" stroke-width="1.2" />
<text x="467.50" y="226.90" font-size="11.7" text-anchor="start" fill="#000" >0</text>
<line x1="454.00" y1="215.46" x2="458.60" y2="215.46" stroke="#1c1c1c" stroke-width="1.1" />
<line x1="454.00" y1="208.93" x2="458.60" y2="208.93" stroke="#1c1c1c" stroke-width="1.1" />
<line x1="454.00" y1="202.39" x2="458.60" y2="202.39" stroke="#1c1c1c" stroke-width="1.1" />
<line x1="454.00" y1="195.85" x2="458.60" y2="195.85" stroke="#1c1c1c" stroke-width="1.1" />
<line x1="454.00" y1="189.32" x2="463.40" y2="189.32" stroke="#1c1c1c" stroke-width="1.2" />
<text x="467.50" y="194.22" font-size="11.7" text-anchor="start" fill="#000" >1</text>
<line x1="454.00" y1="182.78" x2="458.60" y2="182.78" stroke="#1c1c1c" stroke-width="1.1" />
<line x1="454.00" y1="176.24" x2="458.60" y2="176.24" stroke="#1c1c1c" stroke-width="1.1" />
<line x1="454.00" y1="169.71" x2="458.60" y2="169.71" stroke="#1c1c1c" stroke-width="1.1" />
<line x1="454.00" y1="163.17" x2="458.60" y2="163.17" stroke="#1c1c1c" stroke-width="1.1" />
<line x1="454.00" y1="156.63" x2="463.40" y2="156.63" stroke="#1c1c1c" stroke-width="1.2" />
<text x="467.50" y="161.53" font-size="11.7" text-anchor="start" fill="#000" >2</text>
<line x1="454.00" y1="150.10" x2="458.60" y2="150.10" stroke="#1c1c1c" stroke-width="1.1" />
<line x1="454.00" y1="143.56" x2="458.60" y2="143.56" stroke="#1c1c1c" stroke-width="1.1" />
<line x1="454.00" y1="137.02" x2="458.60" y2="137.02" stroke="#1c1c1c" stroke-width="1.1" />
<line x1="454.00" y1="130.49" x2="458.60" y2="130.49" stroke="#1c1c1c" stroke-width="1.1" />
<line x1="454.00" y1="123.95" x2="463.40" y2="123.95" stroke="#1c1c1c" stroke-width="1.2" />
<text x="467.50" y="128.85" font-size="11.7" text-anchor="start" fill="#000" >3</text>
<line x1="454.00" y1="117.41" x2="458.60" y2="117.41" stroke="#1c1c1c" stroke-width="1.1" />
<line x1="454.00" y1="110.88" x2="458.60" y2="110.88" stroke="#1c1c1c" stroke-width="1.1" />
<line x1="454.00" y1="104.34" x2="458.60" y2="104.34" stroke="#1c1c1c" stroke-width="1.1" />
<line x1="454.00" y1="97.80" x2="458.60" y2="97.80" stroke="#1c1c1c" stroke-width="1.1" />
<line x1="454.00" y1="91.27" x2="463.40" y2="91.27" stroke="#1c1c1c" stroke-width="1.2" />
<text x="467.50" y="96.17" font-size="11.7" text-anchor="start" fill="#000" >4</text>
<line x1="454.00" y1="84.73" x2="458.60" y2="84.73" stroke="#1c1c1c" stroke-width="1.1" />
<line x1="454.00" y1="78.19" x2="458.60" y2="78.19" stroke="#1c1c1c" stroke-width="1.1" />
<line x1="454.00" y1="71.66" x2="458.60" y2="71.66" stroke="#1c1c1c" stroke-width="1.1" />
<line x1="454.00" y1="65.12" x2="458.60" y2="65.12" stroke="#1c1c1c" stroke-width="1.1" />
<line x1="454.00" y1="58.58" x2="463.40" y2="58.58" stroke="#1c1c1c" stroke-width="1.2" />
<text x="467.50" y="63.48" font-size="11.7" text-anchor="start" fill="#000" >5</text>
<line x1="454.00" y1="52.05" x2="458.60" y2="52.05" stroke="#1c1c1c" stroke-width="1.1" />
<line x1="454.00" y1="45.51" x2="458.60" y2="45.51" stroke="#1c1c1c" stroke-width="1.1" />
<line x1="454.00" y1="38.97" x2="458.60" y2="38.97" stroke="#1c1c1c" stroke-width="1.1" />
<line x1="454.00" y1="32.44" x2="458.60" y2="32.44" stroke="#1c1c1c" stroke-width="1.1" />
<line x1="454.00" y1="25.90" x2="463.40" y2="25.90" stroke="#1c1c1c" stroke-width="1.2" />
<text x="467.50" y="30.80" font-size="11.7" text-anchor="start" fill="#000" >6</text>
<text transform="translate(492.00,124.45) rotate(-90)" font-size="11.7" text-anchor="middle" >Doppler velocity [m/s]</text>
<rect x="46.5" y="328.3" width="161.0" height="155.7" fill="#fde9d8"/>
<rect x="46.5" y="484.0" width="161.0" height="40.5" fill="#e3cbee"/>
<line x1="46.50" y1="484.00" x2="207.50" y2="484.00" stroke="#f3a6a6" stroke-width="1.0" />
<line x1="169.60" y1="484.00" x2="169.60" y2="328.30" stroke="#8a8a8a" stroke-width="1.75" stroke-dasharray="6.5 2.8"/>
<line x1="61.90" y1="524.50" x2="61.90" y2="486.00" stroke="#8a8a8a" stroke-width="1.75" stroke-dasharray="6.5 2.8"/>
<polyline fill="none" stroke="#1f77b4" stroke-width="2.1" stroke-linejoin="round" stroke-linecap="round" points="206.5,339.5 206,340.6 204,345 199,349 193,355 189,361 187,367 182,371.4 179.4,372 181.6,376 178,379.4 173.6,383 171,388 173,392 179,396 187,402 192,406 195,409 191,411.4 187,414 188.4,416 182,418 177,420 176,423 181,425.6 176,427.4 172,429 171,432 167,435 166,437 160,442 154,445 152.4,451 147,454 140,456.6 142,459 130,463 137,466 124,469.4 130,472 131,476 129,477.4 131,479.4 126,481.4 112,483 100,483.6 88,483.6 64,484.2 52.8,484.5 49.6,485.8 52.8,487.4 62.4,487.9 68,488.5 64,489.8 51.2,491.4 47.7,492.5 51,493.8 64,495.4 76.8,497 80,498 76.8,499 70.4,500.5 65.6,502.6"/>
<line x1="68.50" y1="484.30" x2="163.50" y2="484.30" stroke="#000" stroke-width="1.3" />
<polyline fill="none" stroke="#000" stroke-width="1.3" points="75.5,480.3 68,484.3 75.5,488.3"/>
<polyline fill="none" stroke="#000" stroke-width="1.3" points="156.3,480.3 164,484.3 156.3,488.3"/>
<text x="102.8" y="497.2" font-family="DejaVu Sans, Liberation Sans, sans-serif" font-size="12.4" fill="#000">Δ<tspan font-style="italic" font-size="8.7" dy="2.0" dx="0.6">h</tspan><tspan font-style="italic" dy="-2.0" dx="1.6">V</tspan></text>
<rect x="46.5" y="328.3" width="114.0" height="24.099999999999966" fill="#fdebdd" stroke="#e3d3c6" stroke-width="0.9"/>
<line x1="52.50" y1="339.60" x2="75.00" y2="339.60" stroke="#8a8a8a" stroke-width="1.75" stroke-dasharray="6.5 2.8"/>
<text x="82.30" y="343.70" font-size="11.7" text-anchor="start" fill="#000" >mean velocity</text>
<rect x="46.5" y="328.3" width="161.0" height="196.2" fill="none" stroke="#1c1c1c" stroke-width="1.25"/>
<line x1="37.00" y1="524.50" x2="46.50" y2="524.50" stroke="#1c1c1c" stroke-width="1.2" />
<text x="32.50" y="529.30" font-size="11.7" text-anchor="end" fill="#000" >0</text>
<line x1="41.90" y1="518.89" x2="46.50" y2="518.89" stroke="#1c1c1c" stroke-width="1.1" />
<line x1="41.90" y1="513.29" x2="46.50" y2="513.29" stroke="#1c1c1c" stroke-width="1.1" />
<line x1="41.90" y1="507.68" x2="46.50" y2="507.68" stroke="#1c1c1c" stroke-width="1.1" />
<line x1="41.90" y1="502.08" x2="46.50" y2="502.08" stroke="#1c1c1c" stroke-width="1.1" />
<line x1="37.00" y1="496.47" x2="46.50" y2="496.47" stroke="#1c1c1c" stroke-width="1.2" />
<text x="32.50" y="501.27" font-size="11.7" text-anchor="end" fill="#000" >1</text>
<line x1="41.90" y1="490.86" x2="46.50" y2="490.86" stroke="#1c1c1c" stroke-width="1.1" />
<line x1="41.90" y1="485.26" x2="46.50" y2="485.26" stroke="#1c1c1c" stroke-width="1.1" />
<line x1="41.90" y1="479.65" x2="46.50" y2="479.65" stroke="#1c1c1c" stroke-width="1.1" />
<line x1="41.90" y1="474.05" x2="46.50" y2="474.05" stroke="#1c1c1c" stroke-width="1.1" />
<line x1="37.00" y1="468.44" x2="46.50" y2="468.44" stroke="#1c1c1c" stroke-width="1.2" />
<text x="32.50" y="473.24" font-size="11.7" text-anchor="end" fill="#000" >2</text>
<line x1="41.90" y1="462.83" x2="46.50" y2="462.83" stroke="#1c1c1c" stroke-width="1.1" />
<line x1="41.90" y1="457.23" x2="46.50" y2="457.23" stroke="#1c1c1c" stroke-width="1.1" />
<line x1="41.90" y1="451.62" x2="46.50" y2="451.62" stroke="#1c1c1c" stroke-width="1.1" />
<line x1="41.90" y1="446.02" x2="46.50" y2="446.02" stroke="#1c1c1c" stroke-width="1.1" />
<line x1="37.00" y1="440.41" x2="46.50" y2="440.41" stroke="#1c1c1c" stroke-width="1.2" />
<text x="32.50" y="445.21" font-size="11.7" text-anchor="end" fill="#000" >3</text>
<line x1="41.90" y1="434.80" x2="46.50" y2="434.80" stroke="#1c1c1c" stroke-width="1.1" />
<line x1="41.90" y1="429.20" x2="46.50" y2="429.20" stroke="#1c1c1c" stroke-width="1.1" />
<line x1="41.90" y1="423.59" x2="46.50" y2="423.59" stroke="#1c1c1c" stroke-width="1.1" />
<line x1="41.90" y1="417.99" x2="46.50" y2="417.99" stroke="#1c1c1c" stroke-width="1.1" />
<line x1="37.00" y1="412.38" x2="46.50" y2="412.38" stroke="#1c1c1c" stroke-width="1.2" />
<text x="32.50" y="417.18" font-size="11.7" text-anchor="end" fill="#000" >4</text>
<line x1="41.90" y1="406.77" x2="46.50" y2="406.77" stroke="#1c1c1c" stroke-width="1.1" />
<line x1="41.90" y1="401.17" x2="46.50" y2="401.17" stroke="#1c1c1c" stroke-width="1.1" />
<line x1="41.90" y1="395.56" x2="46.50" y2="395.56" stroke="#1c1c1c" stroke-width="1.1" />
<line x1="41.90" y1="389.96" x2="46.50" y2="389.96" stroke="#1c1c1c" stroke-width="1.1" />
<line x1="37.00" y1="384.35" x2="46.50" y2="384.35" stroke="#1c1c1c" stroke-width="1.2" />
<text x="32.50" y="389.15" font-size="11.7" text-anchor="end" fill="#000" >5</text>
<line x1="41.90" y1="378.74" x2="46.50" y2="378.74" stroke="#1c1c1c" stroke-width="1.1" />
<line x1="41.90" y1="373.14" x2="46.50" y2="373.14" stroke="#1c1c1c" stroke-width="1.1" />
<line x1="41.90" y1="367.53" x2="46.50" y2="367.53" stroke="#1c1c1c" stroke-width="1.1" />
<line x1="41.90" y1="361.93" x2="46.50" y2="361.93" stroke="#1c1c1c" stroke-width="1.1" />
<line x1="37.00" y1="356.32" x2="46.50" y2="356.32" stroke="#1c1c1c" stroke-width="1.2" />
<text x="32.50" y="361.12" font-size="11.7" text-anchor="end" fill="#000" >6</text>
<line x1="41.90" y1="350.71" x2="46.50" y2="350.71" stroke="#1c1c1c" stroke-width="1.1" />
<line x1="41.90" y1="345.11" x2="46.50" y2="345.11" stroke="#1c1c1c" stroke-width="1.1" />
<line x1="41.90" y1="339.50" x2="46.50" y2="339.50" stroke="#1c1c1c" stroke-width="1.1" />
<line x1="41.90" y1="333.90" x2="46.50" y2="333.90" stroke="#1c1c1c" stroke-width="1.1" />
<line x1="37.00" y1="328.29" x2="46.50" y2="328.29" stroke="#1c1c1c" stroke-width="1.2" />
<text x="32.50" y="333.09" font-size="11.7" text-anchor="end" fill="#000" >7</text>
<line x1="53.60" y1="524.50" x2="53.60" y2="533.90" stroke="#1c1c1c" stroke-width="1.2" />
<text x="53.60" y="549.30" font-size="11.7" text-anchor="middle" fill="#000" >3</text>
<line x1="65.20" y1="524.50" x2="65.20" y2="529.10" stroke="#1c1c1c" stroke-width="1.1" />
<line x1="76.80" y1="524.50" x2="76.80" y2="529.10" stroke="#1c1c1c" stroke-width="1.1" />
<line x1="88.40" y1="524.50" x2="88.40" y2="529.10" stroke="#1c1c1c" stroke-width="1.1" />
<line x1="100.00" y1="524.50" x2="100.00" y2="529.10" stroke="#1c1c1c" stroke-width="1.1" />
<line x1="111.60" y1="524.50" x2="111.60" y2="533.90" stroke="#1c1c1c" stroke-width="1.2" />
<text x="111.60" y="549.30" font-size="11.7" text-anchor="middle" fill="#000" >2</text>
<line x1="123.20" y1="524.50" x2="123.20" y2="529.10" stroke="#1c1c1c" stroke-width="1.1" />
<line x1="134.80" y1="524.50" x2="134.80" y2="529.10" stroke="#1c1c1c" stroke-width="1.1" />
<line x1="146.40" y1="524.50" x2="146.40" y2="529.10" stroke="#1c1c1c" stroke-width="1.1" />
<line x1="158.00" y1="524.50" x2="158.00" y2="529.10" stroke="#1c1c1c" stroke-width="1.1" />
<line x1="169.60" y1="524.50" x2="169.60" y2="533.90" stroke="#1c1c1c" stroke-width="1.2" />
<text x="169.60" y="549.30" font-size="11.7" text-anchor="middle" fill="#000" >1</text>
<line x1="181.20" y1="524.50" x2="181.20" y2="529.10" stroke="#1c1c1c" stroke-width="1.1" />
<line x1="192.80" y1="524.50" x2="192.80" y2="529.10" stroke="#1c1c1c" stroke-width="1.1" />
<line x1="204.40" y1="524.50" x2="204.40" y2="529.10" stroke="#1c1c1c" stroke-width="1.1" />
<text transform="translate(14.00,427.40) rotate(-90)" font-size="11.7" text-anchor="middle" >Height [km]</text>
<text x="127.00" y="569.30" font-size="11.7" text-anchor="middle" fill="#000" >Doppler velocity [m/s]</text>
<text x="46.50" y="316.30" font-size="11.7" text-anchor="start" fill="#000" font-weight="bold">b</text>
<text x="126.50" y="316.30" font-size="11.7" text-anchor="middle" fill="#000" >Profile at 17:30</text>
<rect x="270.6" y="328.3" width="160.39999999999998" height="196.2" fill="#fff"/>
<line x1="298.20" y1="328.30" x2="298.20" y2="524.50" stroke="#000" stroke-width="1" stroke-opacity="0.13"/>
<line x1="353.60" y1="328.30" x2="353.60" y2="524.50" stroke="#000" stroke-width="1" stroke-opacity="0.13"/>
<line x1="409.00" y1="328.30" x2="409.00" y2="524.50" stroke="#000" stroke-width="1" stroke-opacity="0.13"/>
<line x1="270.60" y1="516.00" x2="431.00" y2="516.00" stroke="#000" stroke-width="1" stroke-opacity="0.13"/>
<line x1="270.60" y1="486.85" x2="431.00" y2="486.85" stroke="#000" stroke-width="1" stroke-opacity="0.13"/>
<line x1="270.60" y1="457.70" x2="431.00" y2="457.70" stroke="#000" stroke-width="1" stroke-opacity="0.13"/>
<line x1="270.60" y1="428.55" x2="431.00" y2="428.55" stroke="#000" stroke-width="1" stroke-opacity="0.13"/>
<line x1="270.60" y1="399.40" x2="431.00" y2="399.40" stroke="#000" stroke-width="1" stroke-opacity="0.13"/>
<line x1="270.60" y1="370.25" x2="431.00" y2="370.25" stroke="#000" stroke-width="1" stroke-opacity="0.13"/>
<line x1="270.60" y1="341.10" x2="431.00" y2="341.10" stroke="#000" stroke-width="1" stroke-opacity="0.13"/>
<clipPath id="cc"><rect x="270.6" y="328.3" width="160.39999999999998" height="196.2"/></clipPath>
<g clip-path="url(#cc)">
<circle cx="318.6" cy="421.0" r="2.65" fill="#1f77b4" fill-opacity="0.42" stroke="#1f77b4" stroke-opacity="0.55" stroke-width="1"/>
<circle cx="347.0" cy="459.7" r="2.65" fill="#1f77b4" fill-opacity="0.42" stroke="#1f77b4" stroke-opacity="0.55" stroke-width="1"/>
<circle cx="330.3" cy="464.2" r="2.65" fill="#1f77b4" fill-opacity="0.42" stroke="#1f77b4" stroke-opacity="0.55" stroke-width="1"/>
<circle cx="334.6" cy="470.3" r="2.65" fill="#1f77b4" fill-opacity="0.42" stroke="#1f77b4" stroke-opacity="0.55" stroke-width="1"/>
<circle cx="333.0" cy="455.0" r="2.65" fill="#1f77b4" fill-opacity="0.42" stroke="#1f77b4" stroke-opacity="0.55" stroke-width="1"/>
<circle cx="305.8" cy="454.6" r="2.65" fill="#1f77b4" fill-opacity="0.42" stroke="#1f77b4" stroke-opacity="0.55" stroke-width="1"/>
<circle cx="310.6" cy="477.8" r="2.65" fill="#1f77b4" fill-opacity="0.42" stroke="#1f77b4" stroke-opacity="0.55" stroke-width="1"/>
<circle cx="305.8" cy="483.0" r="2.65" fill="#1f77b4" fill-opacity="0.42" stroke="#1f77b4" stroke-opacity="0.55" stroke-width="1"/>
<circle cx="342.6" cy="435.4" r="2.65" fill="#1f77b4" fill-opacity="0.42" stroke="#1f77b4" stroke-opacity="0.55" stroke-width="1"/>
<circle cx="341.0" cy="422.6" r="2.65" fill="#1f77b4" fill-opacity="0.42" stroke="#1f77b4" stroke-opacity="0.55" stroke-width="1"/>
<circle cx="338.6" cy="425.0" r="2.65" fill="#1f77b4" fill-opacity="0.42" stroke="#1f77b4" stroke-opacity="0.55" stroke-width="1"/>
<circle cx="347.4" cy="411.4" r="2.65" fill="#1f77b4" fill-opacity="0.42" stroke="#1f77b4" stroke-opacity="0.55" stroke-width="1"/>
<circle cx="350.6" cy="409.8" r="2.65" fill="#1f77b4" fill-opacity="0.42" stroke="#1f77b4" stroke-opacity="0.55" stroke-width="1"/>
<circle cx="349.8" cy="417.8" r="2.65" fill="#1f77b4" fill-opacity="0.42" stroke="#1f77b4" stroke-opacity="0.55" stroke-width="1"/>
<circle cx="355.4" cy="419.4" r="2.65" fill="#1f77b4" fill-opacity="0.42" stroke="#1f77b4" stroke-opacity="0.55" stroke-width="1"/>
<circle cx="358.6" cy="406.6" r="2.65" fill="#1f77b4" fill-opacity="0.42" stroke="#1f77b4" stroke-opacity="0.55" stroke-width="1"/>
<circle cx="337.8" cy="431.4" r="2.65" fill="#1f77b4" fill-opacity="0.42" stroke="#1f77b4" stroke-opacity="0.55" stroke-width="1"/>
<circle cx="331.4" cy="436.2" r="2.65" fill="#1f77b4" fill-opacity="0.42" stroke="#1f77b4" stroke-opacity="0.55" stroke-width="1"/>
<circle cx="333.0" cy="439.4" r="2.65" fill="#1f77b4" fill-opacity="0.42" stroke="#1f77b4" stroke-opacity="0.55" stroke-width="1"/>
<circle cx="325.0" cy="440.2" r="2.65" fill="#1f77b4" fill-opacity="0.42" stroke="#1f77b4" stroke-opacity="0.55" stroke-width="1"/>
<circle cx="326.6" cy="443.4" r="2.65" fill="#1f77b4" fill-opacity="0.42" stroke="#1f77b4" stroke-opacity="0.55" stroke-width="1"/>
<circle cx="321.0" cy="445.0" r="2.65" fill="#1f77b4" fill-opacity="0.42" stroke="#1f77b4" stroke-opacity="0.55" stroke-width="1"/>
<circle cx="334.6" cy="443.4" r="2.65" fill="#1f77b4" fill-opacity="0.42" stroke="#1f77b4" stroke-opacity="0.55" stroke-width="1"/>
<circle cx="335.4" cy="447.4" r="2.65" fill="#1f77b4" fill-opacity="0.42" stroke="#1f77b4" stroke-opacity="0.55" stroke-width="1"/>
<circle cx="314.6" cy="448.2" r="2.65" fill="#1f77b4" fill-opacity="0.42" stroke="#1f77b4" stroke-opacity="0.55" stroke-width="1"/>
<circle cx="316.2" cy="450.6" r="2.65" fill="#1f77b4" fill-opacity="0.42" stroke="#1f77b4" stroke-opacity="0.55" stroke-width="1"/>
<circle cx="326.6" cy="448.2" r="2.65" fill="#1f77b4" fill-opacity="0.42" stroke="#1f77b4" stroke-opacity="0.55" stroke-width="1"/>
<circle cx="319.4" cy="453.8" r="2.65" fill="#1f77b4" fill-opacity="0.42" stroke="#1f77b4" stroke-opacity="0.55" stroke-width="1"/>
<circle cx="321.0" cy="457.0" r="2.65" fill="#1f77b4" fill-opacity="0.42" stroke="#1f77b4" stroke-opacity="0.55" stroke-width="1"/>
<circle cx="310.6" cy="457.0" r="2.65" fill="#1f77b4" fill-opacity="0.42" stroke="#1f77b4" stroke-opacity="0.55" stroke-width="1"/>
<circle cx="313.0" cy="459.4" r="2.65" fill="#1f77b4" fill-opacity="0.42" stroke="#1f77b4" stroke-opacity="0.55" stroke-width="1"/>
<circle cx="317.8" cy="460.2" r="2.65" fill="#1f77b4" fill-opacity="0.42" stroke="#1f77b4" stroke-opacity="0.55" stroke-width="1"/>
<circle cx="309.0" cy="460.2" r="2.65" fill="#1f77b4" fill-opacity="0.42" stroke="#1f77b4" stroke-opacity="0.55" stroke-width="1"/>
<circle cx="311.4" cy="464.2" r="2.65" fill="#1f77b4" fill-opacity="0.42" stroke="#1f77b4" stroke-opacity="0.55" stroke-width="1"/>
<circle cx="387.4" cy="383.0" r="2.65" fill="#1f77b4" fill-opacity="0.42" stroke="#1f77b4" stroke-opacity="0.55" stroke-width="1"/>
<circle cx="370.0" cy="395.0" r="2.65" fill="#1f77b4" fill-opacity="0.42" stroke="#1f77b4" stroke-opacity="0.55" stroke-width="1"/>
<circle cx="370.6" cy="394.4" r="2.65" fill="#1f77b4" fill-opacity="0.42" stroke="#1f77b4" stroke-opacity="0.55" stroke-width="1"/>
<circle cx="376.4" cy="397.4" r="2.65" fill="#1f77b4" fill-opacity="0.42" stroke="#1f77b4" stroke-opacity="0.55" stroke-width="1"/>
<circle cx="371.0" cy="401.0" r="2.65" fill="#1f77b4" fill-opacity="0.42" stroke="#1f77b4" stroke-opacity="0.55" stroke-width="1"/>
<circle cx="365.0" cy="401.0" r="2.65" fill="#1f77b4" fill-opacity="0.42" stroke="#1f77b4" stroke-opacity="0.55" stroke-width="1"/>
<circle cx="359.6" cy="406.0" r="2.65" fill="#1f77b4" fill-opacity="0.42" stroke="#1f77b4" stroke-opacity="0.55" stroke-width="1"/>
<circle cx="365.0" cy="409.0" r="2.65" fill="#1f77b4" fill-opacity="0.42" stroke="#1f77b4" stroke-opacity="0.55" stroke-width="1"/>
<circle cx="351.0" cy="410.0" r="2.65" fill="#1f77b4" fill-opacity="0.42" stroke="#1f77b4" stroke-opacity="0.55" stroke-width="1"/>
<circle cx="348.0" cy="411.4" r="2.65" fill="#1f77b4" fill-opacity="0.42" stroke="#1f77b4" stroke-opacity="0.55" stroke-width="1"/>
<circle cx="357.0" cy="412.0" r="2.65" fill="#1f77b4" fill-opacity="0.42" stroke="#1f77b4" stroke-opacity="0.55" stroke-width="1"/>
<circle cx="350.0" cy="417.6" r="2.65" fill="#1f77b4" fill-opacity="0.42" stroke="#1f77b4" stroke-opacity="0.55" stroke-width="1"/>
<circle cx="356.0" cy="419.0" r="2.65" fill="#1f77b4" fill-opacity="0.42" stroke="#1f77b4" stroke-opacity="0.55" stroke-width="1"/>
<circle cx="341.0" cy="422.0" r="2.65" fill="#1f77b4" fill-opacity="0.42" stroke="#1f77b4" stroke-opacity="0.55" stroke-width="1"/>
<circle cx="339.0" cy="425.0" r="2.65" fill="#1f77b4" fill-opacity="0.42" stroke="#1f77b4" stroke-opacity="0.55" stroke-width="1"/>
<circle cx="342.4" cy="436.4" r="2.65" fill="#1f77b4" fill-opacity="0.42" stroke="#1f77b4" stroke-opacity="0.55" stroke-width="1"/>
<circle cx="338.0" cy="432.0" r="2.65" fill="#1f77b4" fill-opacity="0.42" stroke="#1f77b4" stroke-opacity="0.55" stroke-width="1"/>
<circle cx="334.0" cy="438.0" r="2.65" fill="#1f77b4" fill-opacity="0.42" stroke="#1f77b4" stroke-opacity="0.55" stroke-width="1"/>
<circle cx="336.0" cy="441.0" r="2.65" fill="#1f77b4" fill-opacity="0.42" stroke="#1f77b4" stroke-opacity="0.55" stroke-width="1"/>
<circle cx="329.0" cy="444.0" r="2.65" fill="#1f77b4" fill-opacity="0.42" stroke="#1f77b4" stroke-opacity="0.55" stroke-width="1"/>
<circle cx="323.0" cy="450.0" r="2.65" fill="#1f77b4" fill-opacity="0.42" stroke="#1f77b4" stroke-opacity="0.55" stroke-width="1"/>
<circle cx="328.0" cy="452.0" r="2.65" fill="#1f77b4" fill-opacity="0.42" stroke="#1f77b4" stroke-opacity="0.55" stroke-width="1"/>
<circle cx="324.0" cy="447.0" r="2.65" fill="#1f77b4" fill-opacity="0.42" stroke="#1f77b4" stroke-opacity="0.55" stroke-width="1"/>
<circle cx="330.0" cy="441.0" r="2.65" fill="#1f77b4" fill-opacity="0.42" stroke="#1f77b4" stroke-opacity="0.55" stroke-width="1"/>
<circle cx="303.3" cy="469.3" r="2.65" fill="#1f77b4" fill-opacity="0.42" stroke="#1f77b4" stroke-opacity="0.55" stroke-width="1"/>
<circle cx="308.2" cy="469.4" r="2.65" fill="#1f77b4" fill-opacity="0.42" stroke="#1f77b4" stroke-opacity="0.55" stroke-width="1"/>
<circle cx="295.2" cy="483.4" r="2.65" fill="#1f77b4" fill-opacity="0.42" stroke="#1f77b4" stroke-opacity="0.55" stroke-width="1"/>
<circle cx="291.6" cy="476.9" r="2.65" fill="#1f77b4" fill-opacity="0.42" stroke="#1f77b4" stroke-opacity="0.55" stroke-width="1"/>
<circle cx="308.9" cy="467.5" r="2.65" fill="#1f77b4" fill-opacity="0.42" stroke="#1f77b4" stroke-opacity="0.55" stroke-width="1"/>
<circle cx="295.2" cy="477.4" r="2.65" fill="#1f77b4" fill-opacity="0.42" stroke="#1f77b4" stroke-opacity="0.55" stroke-width="1"/>
<circle cx="294.3" cy="484.0" r="2.65" fill="#1f77b4" fill-opacity="0.42" stroke="#1f77b4" stroke-opacity="0.55" stroke-width="1"/>
<circle cx="299.9" cy="471.1" r="2.65" fill="#1f77b4" fill-opacity="0.42" stroke="#1f77b4" stroke-opacity="0.55" stroke-width="1"/>
<circle cx="316.3" cy="459.1" r="2.65" fill="#1f77b4" fill-opacity="0.42" stroke="#1f77b4" stroke-opacity="0.55" stroke-width="1"/>
<circle cx="303.2" cy="476.3" r="2.65" fill="#1f77b4" fill-opacity="0.42" stroke="#1f77b4" stroke-opacity="0.55" stroke-width="1"/>
<circle cx="293.7" cy="481.6" r="2.65" fill="#1f77b4" fill-opacity="0.42" stroke="#1f77b4" stroke-opacity="0.55" stroke-width="1"/>
<circle cx="302.9" cy="469.8" r="2.65" fill="#1f77b4" fill-opacity="0.42" stroke="#1f77b4" stroke-opacity="0.55" stroke-width="1"/>
<circle cx="291.7" cy="483.5" r="2.65" fill="#1f77b4" fill-opacity="0.42" stroke="#1f77b4" stroke-opacity="0.55" stroke-width="1"/>
<circle cx="298.9" cy="477.5" r="2.65" fill="#1f77b4" fill-opacity="0.42" stroke="#1f77b4" stroke-opacity="0.55" stroke-width="1"/>
<circle cx="303.4" cy="470.0" r="2.65" fill="#1f77b4" fill-opacity="0.42" stroke="#1f77b4" stroke-opacity="0.55" stroke-width="1"/>
<circle cx="299.7" cy="476.4" r="2.65" fill="#1f77b4" fill-opacity="0.42" stroke="#1f77b4" stroke-opacity="0.55" stroke-width="1"/>
<circle cx="293.3" cy="484.5" r="2.65" fill="#1f77b4" fill-opacity="0.42" stroke="#1f77b4" stroke-opacity="0.55" stroke-width="1"/>
<circle cx="293.5" cy="484.3" r="2.65" fill="#1f77b4" fill-opacity="0.42" stroke="#1f77b4" stroke-opacity="0.55" stroke-width="1"/>
<circle cx="291.6" cy="478.9" r="2.65" fill="#1f77b4" fill-opacity="0.42" stroke="#1f77b4" stroke-opacity="0.55" stroke-width="1"/>
<circle cx="292.8" cy="482.0" r="2.65" fill="#1f77b4" fill-opacity="0.42" stroke="#1f77b4" stroke-opacity="0.55" stroke-width="1"/>
<circle cx="311.9" cy="461.4" r="2.65" fill="#1f77b4" fill-opacity="0.42" stroke="#1f77b4" stroke-opacity="0.55" stroke-width="1"/>
<circle cx="310.7" cy="462.6" r="2.65" fill="#1f77b4" fill-opacity="0.42" stroke="#1f77b4" stroke-opacity="0.55" stroke-width="1"/>
<circle cx="307.0" cy="473.5" r="2.65" fill="#1f77b4" fill-opacity="0.42" stroke="#1f77b4" stroke-opacity="0.55" stroke-width="1"/>
<circle cx="300.9" cy="472.6" r="2.65" fill="#1f77b4" fill-opacity="0.42" stroke="#1f77b4" stroke-opacity="0.55" stroke-width="1"/>
<circle cx="311.6" cy="453.3" r="2.65" fill="#1f77b4" fill-opacity="0.42" stroke="#1f77b4" stroke-opacity="0.55" stroke-width="1"/>
<circle cx="302.5" cy="476.7" r="2.65" fill="#1f77b4" fill-opacity="0.42" stroke="#1f77b4" stroke-opacity="0.55" stroke-width="1"/>
<circle cx="297.0" cy="474.6" r="2.65" fill="#1f77b4" fill-opacity="0.42" stroke="#1f77b4" stroke-opacity="0.55" stroke-width="1"/>
<circle cx="292.8" cy="478.6" r="2.65" fill="#1f77b4" fill-opacity="0.42" stroke="#1f77b4" stroke-opacity="0.55" stroke-width="1"/>
<circle cx="296.8" cy="474.4" r="2.65" fill="#1f77b4" fill-opacity="0.42" stroke="#1f77b4" stroke-opacity="0.55" stroke-width="1"/>
<circle cx="302.3" cy="474.6" r="2.65" fill="#1f77b4" fill-opacity="0.42" stroke="#1f77b4" stroke-opacity="0.55" stroke-width="1"/>
<circle cx="303.7" cy="472.2" r="2.65" fill="#1f77b4" fill-opacity="0.42" stroke="#1f77b4" stroke-opacity="0.55" stroke-width="1"/>
<circle cx="292.8" cy="486.7" r="2.65" fill="#1f77b4" fill-opacity="0.42" stroke="#1f77b4" stroke-opacity="0.55" stroke-width="1"/>
<circle cx="294.1" cy="481.0" r="2.65" fill="#1f77b4" fill-opacity="0.42" stroke="#1f77b4" stroke-opacity="0.55" stroke-width="1"/>
<circle cx="292.1" cy="477.2" r="2.65" fill="#1f77b4" fill-opacity="0.42" stroke="#1f77b4" stroke-opacity="0.55" stroke-width="1"/>
<circle cx="293.7" cy="484.1" r="2.65" fill="#1f77b4" fill-opacity="0.42" stroke="#1f77b4" stroke-opacity="0.55" stroke-width="1"/>
<circle cx="295.2" cy="487.7" r="2.65" fill="#1f77b4" fill-opacity="0.42" stroke="#1f77b4" stroke-opacity="0.55" stroke-width="1"/>
<circle cx="304.4" cy="469.8" r="2.65" fill="#1f77b4" fill-opacity="0.42" stroke="#1f77b4" stroke-opacity="0.55" stroke-width="1"/>
<circle cx="310.6" cy="460.0" r="2.65" fill="#1f77b4" fill-opacity="0.42" stroke="#1f77b4" stroke-opacity="0.55" stroke-width="1"/>
<circle cx="312.8" cy="462.4" r="2.65" fill="#1f77b4" fill-opacity="0.42" stroke="#1f77b4" stroke-opacity="0.55" stroke-width="1"/>
<circle cx="292.7" cy="475.0" r="2.65" fill="#1f77b4" fill-opacity="0.42" stroke="#1f77b4" stroke-opacity="0.55" stroke-width="1"/>
<circle cx="313.7" cy="461.1" r="2.65" fill="#1f77b4" fill-opacity="0.42" stroke="#1f77b4" stroke-opacity="0.55" stroke-width="1"/>
<circle cx="293.2" cy="481.7" r="2.65" fill="#1f77b4" fill-opacity="0.42" stroke="#1f77b4" stroke-opacity="0.55" stroke-width="1"/>
<circle cx="303.8" cy="474.9" r="2.65" fill="#1f77b4" fill-opacity="0.42" stroke="#1f77b4" stroke-opacity="0.55" stroke-width="1"/>
<circle cx="296.8" cy="479.3" r="2.65" fill="#1f77b4" fill-opacity="0.42" stroke="#1f77b4" stroke-opacity="0.55" stroke-width="1"/>
<circle cx="294.1" cy="477.3" r="2.65" fill="#1f77b4" fill-opacity="0.42" stroke="#1f77b4" stroke-opacity="0.55" stroke-width="1"/>
<circle cx="311.7" cy="458.9" r="2.65" fill="#1f77b4" fill-opacity="0.42" stroke="#1f77b4" stroke-opacity="0.55" stroke-width="1"/>
<circle cx="301.1" cy="468.3" r="2.65" fill="#1f77b4" fill-opacity="0.42" stroke="#1f77b4" stroke-opacity="0.55" stroke-width="1"/>
<circle cx="307.3" cy="463.8" r="2.65" fill="#1f77b4" fill-opacity="0.42" stroke="#1f77b4" stroke-opacity="0.55" stroke-width="1"/>
<circle cx="296.7" cy="476.0" r="2.65" fill="#1f77b4" fill-opacity="0.42" stroke="#1f77b4" stroke-opacity="0.55" stroke-width="1"/>
<circle cx="292.4" cy="490.8" r="2.65" fill="#1f77b4" fill-opacity="0.42" stroke="#1f77b4" stroke-opacity="0.55" stroke-width="1"/>
<circle cx="304.3" cy="473.5" r="2.65" fill="#1f77b4" fill-opacity="0.42" stroke="#1f77b4" stroke-opacity="0.55" stroke-width="1"/>
<circle cx="300.4" cy="463.8" r="2.65" fill="#1f77b4" fill-opacity="0.42" stroke="#1f77b4" stroke-opacity="0.55" stroke-width="1"/>
<circle cx="296.1" cy="480.8" r="2.65" fill="#1f77b4" fill-opacity="0.42" stroke="#1f77b4" stroke-opacity="0.55" stroke-width="1"/>
<circle cx="305.1" cy="466.5" r="2.65" fill="#1f77b4" fill-opacity="0.42" stroke="#1f77b4" stroke-opacity="0.55" stroke-width="1"/>
<circle cx="300.3" cy="474.6" r="2.65" fill="#1f77b4" fill-opacity="0.42" stroke="#1f77b4" stroke-opacity="0.55" stroke-width="1"/>
<circle cx="313.0" cy="458.3" r="2.65" fill="#1f77b4" fill-opacity="0.42" stroke="#1f77b4" stroke-opacity="0.55" stroke-width="1"/>
<circle cx="313.9" cy="459.9" r="2.65" fill="#1f77b4" fill-opacity="0.42" stroke="#1f77b4" stroke-opacity="0.55" stroke-width="1"/>
<circle cx="307.4" cy="471.0" r="2.65" fill="#1f77b4" fill-opacity="0.42" stroke="#1f77b4" stroke-opacity="0.55" stroke-width="1"/>
<circle cx="292.6" cy="485.5" r="2.65" fill="#1f77b4" fill-opacity="0.42" stroke="#1f77b4" stroke-opacity="0.55" stroke-width="1"/>
<circle cx="309.5" cy="463.3" r="2.65" fill="#1f77b4" fill-opacity="0.42" stroke="#1f77b4" stroke-opacity="0.55" stroke-width="1"/>
<circle cx="303.4" cy="473.1" r="2.65" fill="#1f77b4" fill-opacity="0.42" stroke="#1f77b4" stroke-opacity="0.55" stroke-width="1"/>
<circle cx="300.1" cy="482.6" r="2.65" fill="#1f77b4" fill-opacity="0.42" stroke="#1f77b4" stroke-opacity="0.55" stroke-width="1"/>
<line x1="259.42" y1="527.66" x2="453.32" y2="323.61" stroke="#000" stroke-width="2.0" stroke-dasharray="7.4 3.2"/>
<line x1="259.42" y1="516.21" x2="453.32" y2="314.61" stroke="#ff0000" stroke-width="2.0" stroke-dasharray="7.4 3.2"/>
</g>
<rect x="270.6" y="328.3" width="120.0" height="36.89999999999998" fill="#fff" stroke="#1c1c1c" stroke-width="1.1"/>
<line x1="276.80" y1="346.50" x2="300.20" y2="346.50" stroke="#ff0000" stroke-width="2.0" stroke-dasharray="7.4 3.2"/>
<text x="306.20" y="343.30" font-size="11.7" text-anchor="start" fill="#000" >fit slope: 0.988</text>
<text x="306.20" y="356.90" font-size="11.7" text-anchor="start" fill="#000" >offset: 0.200</text>
<rect x="351.5" y="500.6" width="79.5" height="23.899999999999977" fill="#fff" stroke="#1c1c1c" stroke-width="1.1"/>
<line x1="357.50" y1="512.40" x2="381.00" y2="512.40" stroke="#000" stroke-width="2.0" stroke-dasharray="7.4 3.2"/>
<text x="387.50" y="516.50" font-size="11.7" text-anchor="start" fill="#000" >1:1 line</text>
<rect x="270.6" y="328.3" width="160.39999999999998" height="196.2" fill="none" stroke="#1c1c1c" stroke-width="1.25"/>
<line x1="266.00" y1="521.83" x2="270.60" y2="521.83" stroke="#1c1c1c" stroke-width="1.1" />
<line x1="261.20" y1="516.00" x2="270.60" y2="516.00" stroke="#1c1c1c" stroke-width="1.2" />
<text x="256.60" y="520.40" font-size="11.7" text-anchor="end" fill="#000" >0.5</text>
<line x1="266.00" y1="510.17" x2="270.60" y2="510.17" stroke="#1c1c1c" stroke-width="1.1" />
<line x1="266.00" y1="504.34" x2="270.60" y2="504.34" stroke="#1c1c1c" stroke-width="1.1" />
<line x1="266.00" y1="498.51" x2="270.60" y2="498.51" stroke="#1c1c1c" stroke-width="1.1" />
<line x1="266.00" y1="492.68" x2="270.60" y2="492.68" stroke="#1c1c1c" stroke-width="1.1" />
<line x1="261.20" y1="486.85" x2="270.60" y2="486.85" stroke="#1c1c1c" stroke-width="1.2" />
<text x="256.60" y="491.25" font-size="11.7" text-anchor="end" fill="#000" >1</text>
<line x1="266.00" y1="481.02" x2="270.60" y2="481.02" stroke="#1c1c1c" stroke-width="1.1" />
<line x1="266.00" y1="475.19" x2="270.60" y2="475.19" stroke="#1c1c1c" stroke-width="1.1" />
<line x1="266.00" y1="469.36" x2="270.60" y2="469.36" stroke="#1c1c1c" stroke-width="1.1" />
<line x1="266.00" y1="463.53" x2="270.60" y2="463.53" stroke="#1c1c1c" stroke-width="1.1" />
<line x1="261.20" y1="457.70" x2="270.60" y2="457.70" stroke="#1c1c1c" stroke-width="1.2" />
<text x="256.60" y="462.10" font-size="11.7" text-anchor="end" fill="#000" >1.5</text>
<line x1="266.00" y1="451.87" x2="270.60" y2="451.87" stroke="#1c1c1c" stroke-width="1.1" />
<line x1="266.00" y1="446.04" x2="270.60" y2="446.04" stroke="#1c1c1c" stroke-width="1.1" />
<line x1="266.00" y1="440.21" x2="270.60" y2="440.21" stroke="#1c1c1c" stroke-width="1.1" />
<line x1="266.00" y1="434.38" x2="270.60" y2="434.38" stroke="#1c1c1c" stroke-width="1.1" />
<line x1="261.20" y1="428.55" x2="270.60" y2="428.55" stroke="#1c1c1c" stroke-width="1.2" />
<text x="256.60" y="432.95" font-size="11.7" text-anchor="end" fill="#000" >2</text>
<line x1="266.00" y1="422.72" x2="270.60" y2="422.72" stroke="#1c1c1c" stroke-width="1.1" />
<line x1="266.00" y1="416.89" x2="270.60" y2="416.89" stroke="#1c1c1c" stroke-width="1.1" />
<line x1="266.00" y1="411.06" x2="270.60" y2="411.06" stroke="#1c1c1c" stroke-width="1.1" />
<line x1="266.00" y1="405.23" x2="270.60" y2="405.23" stroke="#1c1c1c" stroke-width="1.1" />
<line x1="261.20" y1="399.40" x2="270.60" y2="399.40" stroke="#1c1c1c" stroke-width="1.2" />
<text x="256.60" y="403.80" font-size="11.7" text-anchor="end" fill="#000" >2.5</text>
<line x1="266.00" y1="393.57" x2="270.60" y2="393.57" stroke="#1c1c1c" stroke-width="1.1" />
<line x1="266.00" y1="387.74" x2="270.60" y2="387.74" stroke="#1c1c1c" stroke-width="1.1" />
<line x1="266.00" y1="381.91" x2="270.60" y2="381.91" stroke="#1c1c1c" stroke-width="1.1" />
<line x1="266.00" y1="376.08" x2="270.60" y2="376.08" stroke="#1c1c1c" stroke-width="1.1" />
<line x1="261.20" y1="370.25" x2="270.60" y2="370.25" stroke="#1c1c1c" stroke-width="1.2" />
<text x="256.60" y="374.65" font-size="11.7" text-anchor="end" fill="#000" >3</text>
<line x1="266.00" y1="364.42" x2="270.60" y2="364.42" stroke="#1c1c1c" stroke-width="1.1" />
<line x1="266.00" y1="358.59" x2="270.60" y2="358.59" stroke="#1c1c1c" stroke-width="1.1" />
<line x1="266.00" y1="352.76" x2="270.60" y2="352.76" stroke="#1c1c1c" stroke-width="1.1" />
<line x1="266.00" y1="346.93" x2="270.60" y2="346.93" stroke="#1c1c1c" stroke-width="1.1" />
<line x1="261.20" y1="341.10" x2="270.60" y2="341.10" stroke="#1c1c1c" stroke-width="1.2" />
<text x="256.60" y="345.50" font-size="11.7" text-anchor="end" fill="#000" >3.5</text>
<line x1="266.00" y1="335.27" x2="270.60" y2="335.27" stroke="#1c1c1c" stroke-width="1.1" />
<line x1="266.00" y1="329.44" x2="270.60" y2="329.44" stroke="#1c1c1c" stroke-width="1.1" />
<line x1="276.04" y1="524.50" x2="276.04" y2="529.10" stroke="#1c1c1c" stroke-width="1.1" />
<line x1="287.12" y1="524.50" x2="287.12" y2="529.10" stroke="#1c1c1c" stroke-width="1.1" />
<line x1="298.20" y1="524.50" x2="298.20" y2="533.90" stroke="#1c1c1c" stroke-width="1.2" />
<text x="298.20" y="549.30" font-size="11.7" text-anchor="middle" fill="#000" >1</text>
<line x1="309.28" y1="524.50" x2="309.28" y2="529.10" stroke="#1c1c1c" stroke-width="1.1" />
<line x1="320.36" y1="524.50" x2="320.36" y2="529.10" stroke="#1c1c1c" stroke-width="1.1" />
<line x1="331.44" y1="524.50" x2="331.44" y2="529.10" stroke="#1c1c1c" stroke-width="1.1" />
<line x1="342.52" y1="524.50" x2="342.52" y2="529.10" stroke="#1c1c1c" stroke-width="1.1" />
<line x1="353.60" y1="524.50" x2="353.60" y2="533.90" stroke="#1c1c1c" stroke-width="1.2" />
<text x="353.60" y="549.30" font-size="11.7" text-anchor="middle" fill="#000" >2</text>
<line x1="364.68" y1="524.50" x2="364.68" y2="529.10" stroke="#1c1c1c" stroke-width="1.1" />
<line x1="375.76" y1="524.50" x2="375.76" y2="529.10" stroke="#1c1c1c" stroke-width="1.1" />
<line x1="386.84" y1="524.50" x2="386.84" y2="529.10" stroke="#1c1c1c" stroke-width="1.1" />
<line x1="397.92" y1="524.50" x2="397.92" y2="529.10" stroke="#1c1c1c" stroke-width="1.1" />
<line x1="409.00" y1="524.50" x2="409.00" y2="533.90" stroke="#1c1c1c" stroke-width="1.2" />
<text x="409.00" y="549.30" font-size="11.7" text-anchor="middle" fill="#000" >3</text>
<line x1="420.08" y1="524.50" x2="420.08" y2="529.10" stroke="#1c1c1c" stroke-width="1.1" />
<line x1="431.16" y1="524.50" x2="431.16" y2="529.10" stroke="#1c1c1c" stroke-width="1.1" />
<text transform="translate(227.70,427.20) rotate(-90)" font-size="11.7" text-anchor="middle" >Radiosonde ML height [km]</text>
<text x="351.40" y="569.30" font-size="11.7" text-anchor="middle" fill="#000" >Radar ML height [km]</text>
<text x="270.60" y="316.30" font-size="11.7" text-anchor="start" fill="#000" font-weight="bold">c</text>
<text x="351.00" y="316.30" font-size="11.7" text-anchor="middle" fill="#000" >Essen Radar</text>
</svg>
</body></html>
